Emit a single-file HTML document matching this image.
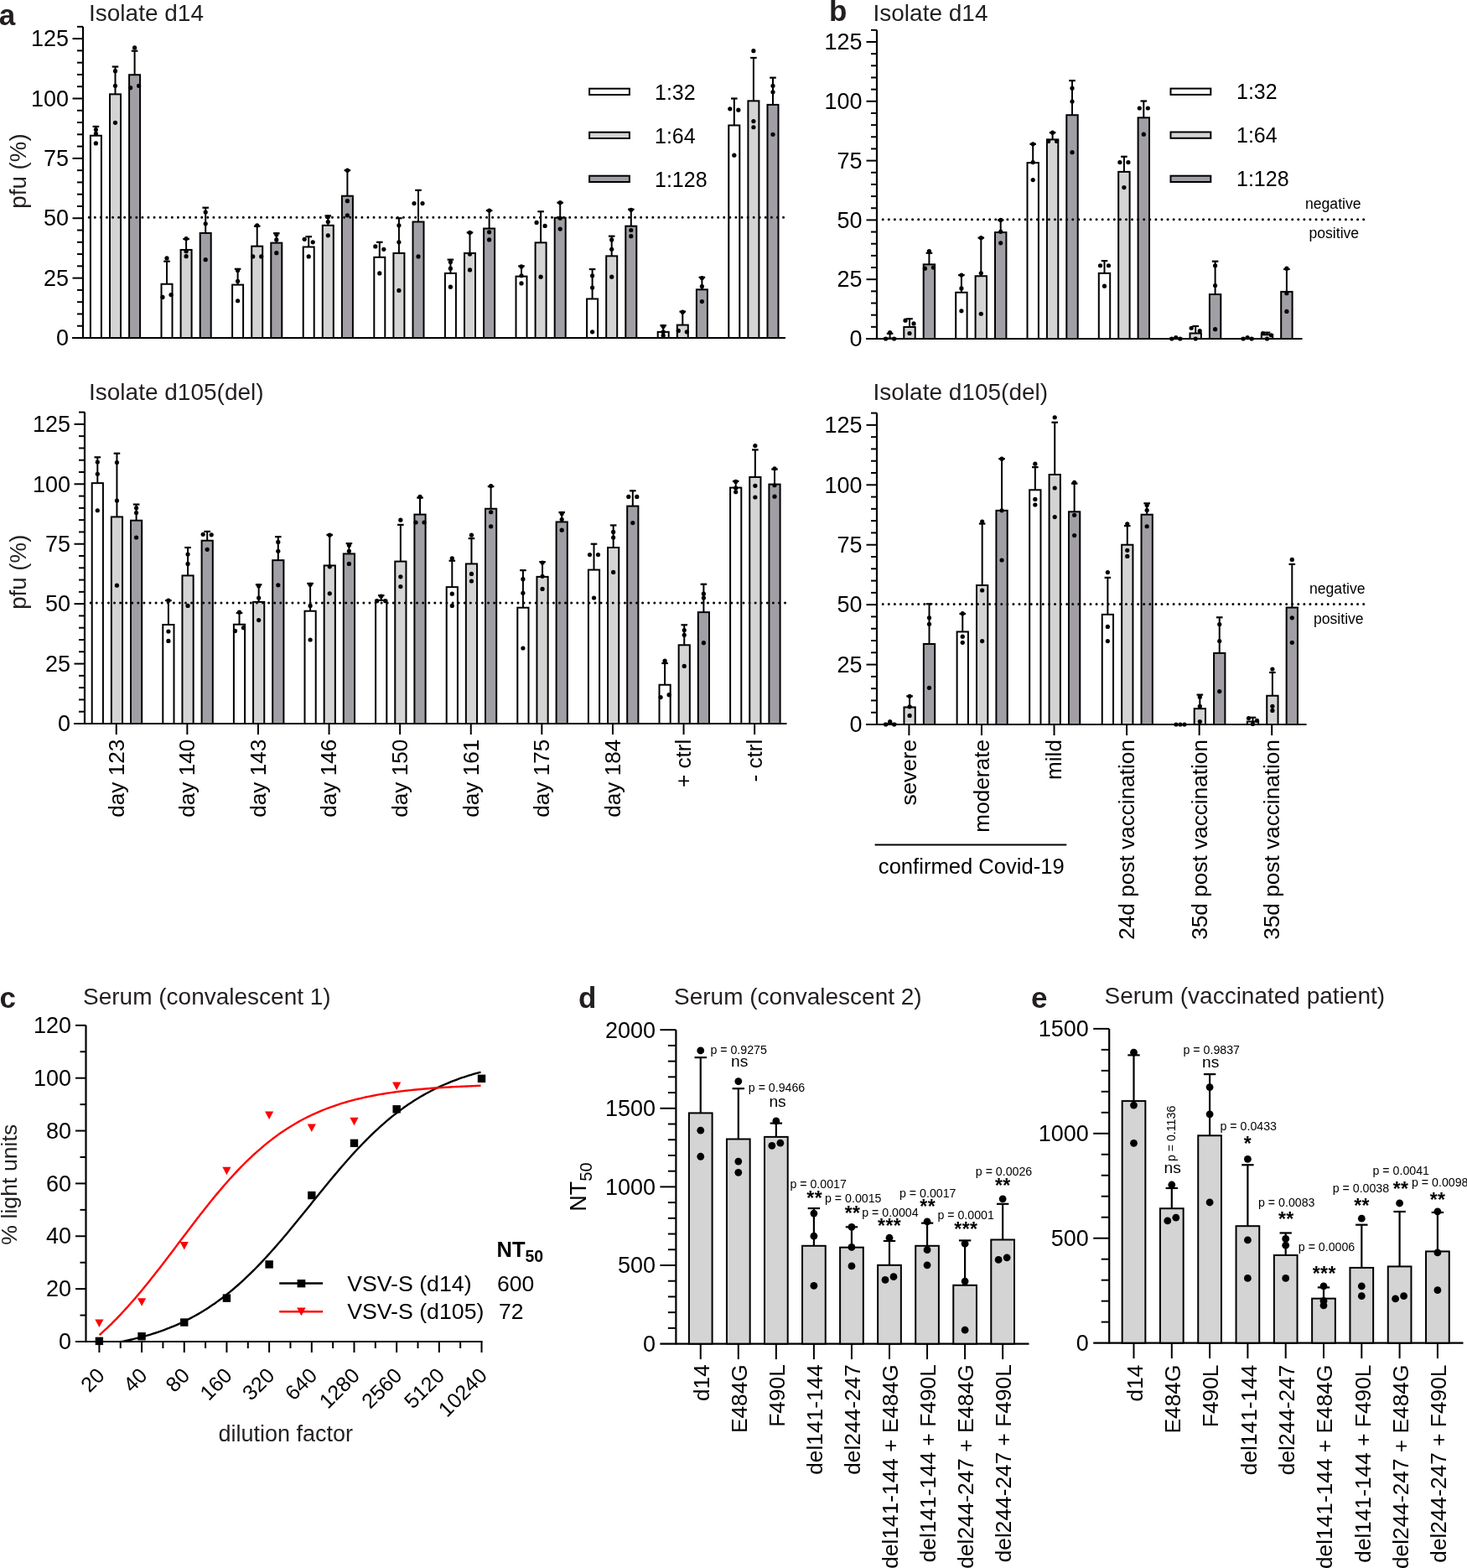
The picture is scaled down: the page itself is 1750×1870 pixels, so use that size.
<!DOCTYPE html>
<html><head><meta charset="utf-8"><title>Figure</title>
<style>html,body{margin:0;padding:0;background:#fff;overflow:hidden;}svg{display:block;}</style>
</head><body>
<svg width="1750" height="1870" viewBox="0 0 1750 1870" font-family="'Liberation Sans', Arial, Helvetica, sans-serif" fill="#000">
<rect width="1750" height="1870" fill="#fff"/>
<line x1="99" y1="31.85" x2="99" y2="404" stroke="#000" stroke-width="2.2"/>
<line x1="92" y1="388.73" x2="99" y2="388.73" stroke="#000" stroke-width="2"/>
<line x1="92" y1="374.45" x2="99" y2="374.45" stroke="#000" stroke-width="2"/>
<line x1="92" y1="360.18" x2="99" y2="360.18" stroke="#000" stroke-width="2"/>
<line x1="92" y1="345.9" x2="99" y2="345.9" stroke="#000" stroke-width="2"/>
<line x1="86.5" y1="331.62" x2="99" y2="331.62" stroke="#000" stroke-width="2"/>
<line x1="92" y1="317.35" x2="99" y2="317.35" stroke="#000" stroke-width="2"/>
<line x1="92" y1="303.07" x2="99" y2="303.07" stroke="#000" stroke-width="2"/>
<line x1="92" y1="288.8" x2="99" y2="288.8" stroke="#000" stroke-width="2"/>
<line x1="92" y1="274.52" x2="99" y2="274.52" stroke="#000" stroke-width="2"/>
<line x1="86.5" y1="260.25" x2="99" y2="260.25" stroke="#000" stroke-width="2"/>
<line x1="92" y1="245.97" x2="99" y2="245.97" stroke="#000" stroke-width="2"/>
<line x1="92" y1="231.7" x2="99" y2="231.7" stroke="#000" stroke-width="2"/>
<line x1="92" y1="217.43" x2="99" y2="217.43" stroke="#000" stroke-width="2"/>
<line x1="92" y1="203.15" x2="99" y2="203.15" stroke="#000" stroke-width="2"/>
<line x1="86.5" y1="188.88" x2="99" y2="188.88" stroke="#000" stroke-width="2"/>
<line x1="92" y1="174.6" x2="99" y2="174.6" stroke="#000" stroke-width="2"/>
<line x1="92" y1="160.32" x2="99" y2="160.32" stroke="#000" stroke-width="2"/>
<line x1="92" y1="146.05" x2="99" y2="146.05" stroke="#000" stroke-width="2"/>
<line x1="92" y1="131.77" x2="99" y2="131.77" stroke="#000" stroke-width="2"/>
<line x1="86.5" y1="117.5" x2="99" y2="117.5" stroke="#000" stroke-width="2"/>
<line x1="92" y1="103.23" x2="99" y2="103.23" stroke="#000" stroke-width="2"/>
<line x1="92" y1="88.95" x2="99" y2="88.95" stroke="#000" stroke-width="2"/>
<line x1="92" y1="74.68" x2="99" y2="74.68" stroke="#000" stroke-width="2"/>
<line x1="92" y1="60.4" x2="99" y2="60.4" stroke="#000" stroke-width="2"/>
<line x1="86.5" y1="46.12" x2="99" y2="46.12" stroke="#000" stroke-width="2"/>
<line x1="92" y1="31.85" x2="99" y2="31.85" stroke="#000" stroke-width="2"/>
<text font-size="27" text-anchor="end" transform="translate(82 412.2) scale(1 1.04)">0</text>
<text font-size="27" text-anchor="end" transform="translate(82 340.82) scale(1 1.04)">25</text>
<text font-size="27" text-anchor="end" transform="translate(82 269.45) scale(1 1.04)">50</text>
<text font-size="27" text-anchor="end" transform="translate(82 198.07) scale(1 1.04)">75</text>
<text font-size="27" text-anchor="end" transform="translate(82 126.7) scale(1 1.04)">100</text>
<text font-size="27" text-anchor="end" transform="translate(82 55.33) scale(1 1.04)">125</text>
<line x1="86" y1="403" x2="937" y2="403" stroke="#000" stroke-width="2.2"/>
<rect x="107.9" y="161.75" width="13" height="241.25" fill="#ffffff" stroke="#000" stroke-width="2.0"/>
<line x1="114.4" y1="161.75" x2="114.4" y2="150.9" stroke="#000" stroke-width="2"/>
<line x1="110.6" y1="150.9" x2="118.2" y2="150.9" stroke="#000" stroke-width="2.2"/>
<circle cx="114.4" cy="154.62" r="2.6"/>
<circle cx="114.4" cy="159.47" r="2.6"/>
<circle cx="114.4" cy="170.89" r="2.6"/>
<rect x="131" y="112.36" width="13" height="290.64" fill="#d4d4d4" stroke="#000" stroke-width="2.0"/>
<line x1="137.5" y1="112.36" x2="137.5" y2="79.53" stroke="#000" stroke-width="2"/>
<line x1="133.7" y1="79.53" x2="141.3" y2="79.53" stroke="#000" stroke-width="2.2"/>
<circle cx="137.5" cy="84.67" r="2.6"/>
<circle cx="137.5" cy="102.37" r="2.6"/>
<circle cx="137.5" cy="146.34" r="2.6"/>
<rect x="154.1" y="89.24" width="13" height="313.76" fill="#a19fa5" stroke="#000" stroke-width="2.0"/>
<line x1="160.6" y1="89.24" x2="160.6" y2="60.69" stroke="#000" stroke-width="2"/>
<line x1="156.8" y1="60.69" x2="164.4" y2="60.69" stroke="#000" stroke-width="2.2"/>
<circle cx="160.6" cy="56.97" r="2.6"/>
<circle cx="155.6" cy="104.65" r="2.6"/>
<circle cx="165.6" cy="102.37" r="2.6"/>
<rect x="192.5" y="338.76" width="13" height="64.24" fill="#ffffff" stroke="#000" stroke-width="2.0"/>
<line x1="199" y1="338.76" x2="199" y2="311.64" stroke="#000" stroke-width="2"/>
<line x1="195.2" y1="311.64" x2="202.8" y2="311.64" stroke="#000" stroke-width="2.2"/>
<circle cx="199" cy="307.93" r="2.6"/>
<circle cx="194" cy="354.47" r="2.6"/>
<circle cx="204" cy="351.61" r="2.6"/>
<rect x="215.6" y="297.94" width="13" height="105.06" fill="#d4d4d4" stroke="#000" stroke-width="2.0"/>
<line x1="222.1" y1="297.94" x2="222.1" y2="285.09" stroke="#000" stroke-width="2"/>
<line x1="218.3" y1="285.09" x2="225.9" y2="285.09" stroke="#000" stroke-width="2.2"/>
<circle cx="222.1" cy="284.52" r="2.6"/>
<circle cx="222.1" cy="299.65" r="2.6"/>
<circle cx="222.1" cy="305.64" r="2.6"/>
<rect x="238.7" y="277.95" width="13" height="125.05" fill="#a19fa5" stroke="#000" stroke-width="2.0"/>
<line x1="245.2" y1="277.95" x2="245.2" y2="247.69" stroke="#000" stroke-width="2"/>
<line x1="241.4" y1="247.69" x2="249" y2="247.69" stroke="#000" stroke-width="2.2"/>
<circle cx="245.2" cy="253.11" r="2.6"/>
<circle cx="245.2" cy="266.82" r="2.6"/>
<circle cx="245.2" cy="309.64" r="2.6"/>
<rect x="277.1" y="339.62" width="13" height="63.38" fill="#ffffff" stroke="#000" stroke-width="2.0"/>
<line x1="283.6" y1="339.62" x2="283.6" y2="320.78" stroke="#000" stroke-width="2"/>
<line x1="279.8" y1="320.78" x2="287.4" y2="320.78" stroke="#000" stroke-width="2.2"/>
<circle cx="283.6" cy="322.49" r="2.6"/>
<circle cx="283.6" cy="335.34" r="2.6"/>
<circle cx="283.6" cy="358.75" r="2.6"/>
<rect x="300.2" y="293.65" width="13" height="109.35" fill="#d4d4d4" stroke="#000" stroke-width="2.0"/>
<line x1="306.7" y1="293.65" x2="306.7" y2="269.67" stroke="#000" stroke-width="2"/>
<line x1="302.9" y1="269.67" x2="310.5" y2="269.67" stroke="#000" stroke-width="2.2"/>
<circle cx="306.7" cy="268.81" r="2.6"/>
<circle cx="301.7" cy="305.93" r="2.6"/>
<circle cx="311.7" cy="305.93" r="2.6"/>
<rect x="323.3" y="289.66" width="13" height="113.34" fill="#a19fa5" stroke="#000" stroke-width="2.0"/>
<line x1="329.8" y1="289.66" x2="329.8" y2="278.24" stroke="#000" stroke-width="2"/>
<line x1="326" y1="278.24" x2="333.6" y2="278.24" stroke="#000" stroke-width="2.2"/>
<circle cx="329.8" cy="279.66" r="2.6"/>
<circle cx="329.8" cy="285.94" r="2.6"/>
<circle cx="329.8" cy="301.65" r="2.6"/>
<rect x="361.7" y="294.51" width="13" height="108.49" fill="#ffffff" stroke="#000" stroke-width="2.0"/>
<line x1="368.2" y1="294.51" x2="368.2" y2="282.23" stroke="#000" stroke-width="2"/>
<line x1="364.4" y1="282.23" x2="372" y2="282.23" stroke="#000" stroke-width="2.2"/>
<circle cx="363.2" cy="285.37" r="2.6"/>
<circle cx="373.2" cy="288.8" r="2.6"/>
<circle cx="368.2" cy="305.93" r="2.6"/>
<rect x="384.8" y="268.81" width="13" height="134.19" fill="#d4d4d4" stroke="#000" stroke-width="2.0"/>
<line x1="391.3" y1="268.81" x2="391.3" y2="257.39" stroke="#000" stroke-width="2"/>
<line x1="387.5" y1="257.39" x2="395.1" y2="257.39" stroke="#000" stroke-width="2.2"/>
<circle cx="391.3" cy="258.82" r="2.6"/>
<circle cx="391.3" cy="264.53" r="2.6"/>
<circle cx="391.3" cy="280.81" r="2.6"/>
<rect x="407.9" y="233.7" width="13" height="169.3" fill="#a19fa5" stroke="#000" stroke-width="2.0"/>
<line x1="414.4" y1="233.7" x2="414.4" y2="203.15" stroke="#000" stroke-width="2"/>
<line x1="410.6" y1="203.15" x2="418.2" y2="203.15" stroke="#000" stroke-width="2.2"/>
<circle cx="414.4" cy="203.15" r="2.6"/>
<circle cx="414.4" cy="239.69" r="2.6"/>
<circle cx="414.4" cy="256.82" r="2.6"/>
<rect x="446.3" y="306.79" width="13" height="96.21" fill="#ffffff" stroke="#000" stroke-width="2.0"/>
<line x1="452.8" y1="306.79" x2="452.8" y2="288.8" stroke="#000" stroke-width="2"/>
<line x1="449" y1="288.8" x2="456.6" y2="288.8" stroke="#000" stroke-width="2.2"/>
<circle cx="447.8" cy="293.94" r="2.6"/>
<circle cx="457.8" cy="297.37" r="2.6"/>
<circle cx="452.8" cy="325.92" r="2.6"/>
<rect x="469.4" y="301.93" width="13" height="101.07" fill="#d4d4d4" stroke="#000" stroke-width="2.0"/>
<line x1="475.9" y1="301.93" x2="475.9" y2="260.25" stroke="#000" stroke-width="2"/>
<line x1="472.1" y1="260.25" x2="479.7" y2="260.25" stroke="#000" stroke-width="2.2"/>
<circle cx="475.9" cy="268.81" r="2.6"/>
<circle cx="475.9" cy="288.8" r="2.6"/>
<circle cx="475.9" cy="346.47" r="2.6"/>
<rect x="492.5" y="264.53" width="13" height="138.47" fill="#a19fa5" stroke="#000" stroke-width="2.0"/>
<line x1="499" y1="264.53" x2="499" y2="226.85" stroke="#000" stroke-width="2"/>
<line x1="495.2" y1="226.85" x2="502.8" y2="226.85" stroke="#000" stroke-width="2.2"/>
<circle cx="494" cy="242.55" r="2.6"/>
<circle cx="504" cy="242.55" r="2.6"/>
<circle cx="499" cy="305.93" r="2.6"/>
<rect x="530.9" y="325.92" width="13" height="77.08" fill="#ffffff" stroke="#000" stroke-width="2.0"/>
<line x1="537.4" y1="325.92" x2="537.4" y2="309.64" stroke="#000" stroke-width="2"/>
<line x1="533.6" y1="309.64" x2="541.2" y2="309.64" stroke="#000" stroke-width="2.2"/>
<circle cx="537.4" cy="312.5" r="2.6"/>
<circle cx="537.4" cy="320.2" r="2.6"/>
<circle cx="537.4" cy="342.19" r="2.6"/>
<rect x="554" y="301.93" width="13" height="101.07" fill="#d4d4d4" stroke="#000" stroke-width="2.0"/>
<line x1="560.5" y1="301.93" x2="560.5" y2="277.38" stroke="#000" stroke-width="2"/>
<line x1="556.7" y1="277.38" x2="564.3" y2="277.38" stroke="#000" stroke-width="2.2"/>
<circle cx="560.5" cy="277.38" r="2.6"/>
<circle cx="560.5" cy="303.07" r="2.6"/>
<circle cx="560.5" cy="321.92" r="2.6"/>
<rect x="577.1" y="272.53" width="13" height="130.47" fill="#a19fa5" stroke="#000" stroke-width="2.0"/>
<line x1="583.6" y1="272.53" x2="583.6" y2="251.11" stroke="#000" stroke-width="2"/>
<line x1="579.8" y1="251.11" x2="587.4" y2="251.11" stroke="#000" stroke-width="2.2"/>
<circle cx="583.6" cy="251.11" r="2.6"/>
<circle cx="583.6" cy="276.81" r="2.6"/>
<circle cx="583.6" cy="285.94" r="2.6"/>
<rect x="615.5" y="329.63" width="13" height="73.37" fill="#ffffff" stroke="#000" stroke-width="2.0"/>
<line x1="622" y1="329.63" x2="622" y2="317.35" stroke="#000" stroke-width="2"/>
<line x1="618.2" y1="317.35" x2="625.8" y2="317.35" stroke="#000" stroke-width="2.2"/>
<circle cx="622" cy="317.92" r="2.6"/>
<circle cx="622" cy="328.77" r="2.6"/>
<circle cx="622" cy="337.91" r="2.6"/>
<rect x="638.6" y="289.37" width="13" height="113.63" fill="#d4d4d4" stroke="#000" stroke-width="2.0"/>
<line x1="645.1" y1="289.37" x2="645.1" y2="252.26" stroke="#000" stroke-width="2"/>
<line x1="641.3" y1="252.26" x2="648.9" y2="252.26" stroke="#000" stroke-width="2.2"/>
<circle cx="640.1" cy="265.39" r="2.6"/>
<circle cx="650.1" cy="269.39" r="2.6"/>
<circle cx="645.1" cy="330.2" r="2.6"/>
<rect x="661.7" y="259.68" width="13" height="143.32" fill="#a19fa5" stroke="#000" stroke-width="2.0"/>
<line x1="668.2" y1="259.68" x2="668.2" y2="241.69" stroke="#000" stroke-width="2"/>
<line x1="664.4" y1="241.69" x2="672" y2="241.69" stroke="#000" stroke-width="2.2"/>
<circle cx="668.2" cy="241.69" r="2.6"/>
<circle cx="668.2" cy="260.25" r="2.6"/>
<circle cx="668.2" cy="273.1" r="2.6"/>
<rect x="700.1" y="356.46" width="13" height="46.54" fill="#ffffff" stroke="#000" stroke-width="2.0"/>
<line x1="706.6" y1="356.46" x2="706.6" y2="321.06" stroke="#000" stroke-width="2"/>
<line x1="702.8" y1="321.06" x2="710.4" y2="321.06" stroke="#000" stroke-width="2.2"/>
<circle cx="706.6" cy="328.77" r="2.6"/>
<circle cx="706.6" cy="343.05" r="2.6"/>
<circle cx="706.6" cy="395.86" r="2.6"/>
<rect x="723.2" y="305.36" width="13" height="97.64" fill="#d4d4d4" stroke="#000" stroke-width="2.0"/>
<line x1="729.7" y1="305.36" x2="729.7" y2="281.66" stroke="#000" stroke-width="2"/>
<line x1="725.9" y1="281.66" x2="733.5" y2="281.66" stroke="#000" stroke-width="2.2"/>
<circle cx="729.7" cy="285.94" r="2.6"/>
<circle cx="729.7" cy="297.37" r="2.6"/>
<circle cx="729.7" cy="330.2" r="2.6"/>
<rect x="746.3" y="269.67" width="13" height="133.33" fill="#a19fa5" stroke="#000" stroke-width="2.0"/>
<line x1="752.8" y1="269.67" x2="752.8" y2="249.69" stroke="#000" stroke-width="2"/>
<line x1="749" y1="249.69" x2="756.6" y2="249.69" stroke="#000" stroke-width="2.2"/>
<circle cx="752.8" cy="250.26" r="2.6"/>
<circle cx="752.8" cy="274.52" r="2.6"/>
<circle cx="752.8" cy="281.66" r="2.6"/>
<rect x="784.7" y="395.86" width="13" height="7.14" fill="#ffffff" stroke="#000" stroke-width="2.0"/>
<line x1="791.2" y1="395.86" x2="791.2" y2="388.15" stroke="#000" stroke-width="2"/>
<line x1="787.4" y1="388.15" x2="795" y2="388.15" stroke="#000" stroke-width="2.2"/>
<circle cx="791.2" cy="389.3" r="2.6"/>
<circle cx="791.2" cy="395.86" r="2.6"/>
<circle cx="791.2" cy="400.14" r="2.6"/>
<rect x="807.8" y="387.58" width="13" height="15.42" fill="#d4d4d4" stroke="#000" stroke-width="2.0"/>
<line x1="814.3" y1="387.58" x2="814.3" y2="371.6" stroke="#000" stroke-width="2"/>
<line x1="810.5" y1="371.6" x2="818.1" y2="371.6" stroke="#000" stroke-width="2.2"/>
<circle cx="814.3" cy="372.17" r="2.6"/>
<circle cx="809.3" cy="394.44" r="2.6"/>
<circle cx="819.3" cy="395.86" r="2.6"/>
<rect x="830.9" y="345.33" width="13" height="57.67" fill="#a19fa5" stroke="#000" stroke-width="2.0"/>
<line x1="837.4" y1="345.33" x2="837.4" y2="330.77" stroke="#000" stroke-width="2"/>
<line x1="833.6" y1="330.77" x2="841.2" y2="330.77" stroke="#000" stroke-width="2.2"/>
<circle cx="837.4" cy="331.62" r="2.6"/>
<circle cx="837.4" cy="341.62" r="2.6"/>
<circle cx="837.4" cy="359.6" r="2.6"/>
<rect x="869.3" y="149.48" width="13" height="253.52" fill="#ffffff" stroke="#000" stroke-width="2.0"/>
<line x1="875.8" y1="149.48" x2="875.8" y2="117.5" stroke="#000" stroke-width="2"/>
<line x1="872" y1="117.5" x2="879.6" y2="117.5" stroke="#000" stroke-width="2.2"/>
<circle cx="870.8" cy="129.78" r="2.6"/>
<circle cx="880.8" cy="131.2" r="2.6"/>
<circle cx="875.8" cy="185.16" r="2.6"/>
<rect x="892.4" y="120.36" width="13" height="282.64" fill="#d4d4d4" stroke="#000" stroke-width="2.0"/>
<line x1="898.9" y1="120.36" x2="898.9" y2="68.96" stroke="#000" stroke-width="2"/>
<line x1="895.1" y1="68.96" x2="902.7" y2="68.96" stroke="#000" stroke-width="2.2"/>
<circle cx="898.9" cy="60.69" r="2.6"/>
<circle cx="898.9" cy="144.62" r="2.6"/>
<circle cx="898.9" cy="151.76" r="2.6"/>
<rect x="915.5" y="124.92" width="13" height="278.08" fill="#a19fa5" stroke="#000" stroke-width="2.0"/>
<line x1="922" y1="124.92" x2="922" y2="92.66" stroke="#000" stroke-width="2"/>
<line x1="918.2" y1="92.66" x2="925.8" y2="92.66" stroke="#000" stroke-width="2.2"/>
<circle cx="922" cy="102.37" r="2.6"/>
<circle cx="922" cy="109.79" r="2.6"/>
<circle cx="922" cy="160.32" r="2.6"/>
<line x1="106.2" y1="259.2" x2="941" y2="259.2" stroke="#000" stroke-width="3" stroke-linecap="round" stroke-dasharray="0 7.08"/>
<line x1="101" y1="491.59" x2="101" y2="864" stroke="#000" stroke-width="2.2"/>
<line x1="94" y1="848.72" x2="101" y2="848.72" stroke="#000" stroke-width="2"/>
<line x1="94" y1="834.43" x2="101" y2="834.43" stroke="#000" stroke-width="2"/>
<line x1="94" y1="820.14" x2="101" y2="820.14" stroke="#000" stroke-width="2"/>
<line x1="94" y1="805.86" x2="101" y2="805.86" stroke="#000" stroke-width="2"/>
<line x1="88.5" y1="791.58" x2="101" y2="791.58" stroke="#000" stroke-width="2"/>
<line x1="94" y1="777.29" x2="101" y2="777.29" stroke="#000" stroke-width="2"/>
<line x1="94" y1="763" x2="101" y2="763" stroke="#000" stroke-width="2"/>
<line x1="94" y1="748.72" x2="101" y2="748.72" stroke="#000" stroke-width="2"/>
<line x1="94" y1="734.43" x2="101" y2="734.43" stroke="#000" stroke-width="2"/>
<line x1="88.5" y1="720.15" x2="101" y2="720.15" stroke="#000" stroke-width="2"/>
<line x1="94" y1="705.87" x2="101" y2="705.87" stroke="#000" stroke-width="2"/>
<line x1="94" y1="691.58" x2="101" y2="691.58" stroke="#000" stroke-width="2"/>
<line x1="94" y1="677.29" x2="101" y2="677.29" stroke="#000" stroke-width="2"/>
<line x1="94" y1="663.01" x2="101" y2="663.01" stroke="#000" stroke-width="2"/>
<line x1="88.5" y1="648.73" x2="101" y2="648.73" stroke="#000" stroke-width="2"/>
<line x1="94" y1="634.44" x2="101" y2="634.44" stroke="#000" stroke-width="2"/>
<line x1="94" y1="620.15" x2="101" y2="620.15" stroke="#000" stroke-width="2"/>
<line x1="94" y1="605.87" x2="101" y2="605.87" stroke="#000" stroke-width="2"/>
<line x1="94" y1="591.59" x2="101" y2="591.59" stroke="#000" stroke-width="2"/>
<line x1="88.5" y1="577.3" x2="101" y2="577.3" stroke="#000" stroke-width="2"/>
<line x1="94" y1="563.01" x2="101" y2="563.01" stroke="#000" stroke-width="2"/>
<line x1="94" y1="548.73" x2="101" y2="548.73" stroke="#000" stroke-width="2"/>
<line x1="94" y1="534.44" x2="101" y2="534.44" stroke="#000" stroke-width="2"/>
<line x1="94" y1="520.16" x2="101" y2="520.16" stroke="#000" stroke-width="2"/>
<line x1="88.5" y1="505.88" x2="101" y2="505.88" stroke="#000" stroke-width="2"/>
<line x1="94" y1="491.59" x2="101" y2="491.59" stroke="#000" stroke-width="2"/>
<text font-size="27" text-anchor="end" transform="translate(84 872.2) scale(1 1.04)">0</text>
<text font-size="27" text-anchor="end" transform="translate(84 800.78) scale(1 1.04)">25</text>
<text font-size="27" text-anchor="end" transform="translate(84 729.35) scale(1 1.04)">50</text>
<text font-size="27" text-anchor="end" transform="translate(84 657.93) scale(1 1.04)">75</text>
<text font-size="27" text-anchor="end" transform="translate(84 586.5) scale(1 1.04)">100</text>
<text font-size="27" text-anchor="end" transform="translate(84 515.08) scale(1 1.04)">125</text>
<line x1="88" y1="863" x2="938.5" y2="863" stroke="#000" stroke-width="2.2"/>
<rect x="109.7" y="576.16" width="13.2" height="286.84" fill="#ffffff" stroke="#000" stroke-width="2.0"/>
<line x1="116.3" y1="576.16" x2="116.3" y2="545.3" stroke="#000" stroke-width="2"/>
<line x1="112.5" y1="545.3" x2="120.1" y2="545.3" stroke="#000" stroke-width="2.2"/>
<circle cx="116.3" cy="551.02" r="2.6"/>
<circle cx="116.3" cy="565.3" r="2.6"/>
<circle cx="116.3" cy="608.73" r="2.6"/>
<rect x="132.85" y="616.44" width="13.2" height="246.56" fill="#d4d4d4" stroke="#000" stroke-width="2.0"/>
<line x1="139.45" y1="616.44" x2="139.45" y2="540.73" stroke="#000" stroke-width="2"/>
<line x1="135.65" y1="540.73" x2="143.25" y2="540.73" stroke="#000" stroke-width="2.2"/>
<circle cx="139.45" cy="551.59" r="2.6"/>
<circle cx="139.45" cy="597.01" r="2.6"/>
<circle cx="139.45" cy="698.15" r="2.6"/>
<rect x="156" y="620.73" width="13.2" height="242.27" fill="#a19fa5" stroke="#000" stroke-width="2.0"/>
<line x1="162.6" y1="620.73" x2="162.6" y2="601.58" stroke="#000" stroke-width="2"/>
<line x1="158.8" y1="601.58" x2="166.4" y2="601.58" stroke="#000" stroke-width="2.2"/>
<circle cx="162.6" cy="605.87" r="2.6"/>
<circle cx="162.6" cy="611.58" r="2.6"/>
<circle cx="162.6" cy="641.01" r="2.6"/>
<rect x="194.3" y="745.01" width="13.2" height="117.99" fill="#ffffff" stroke="#000" stroke-width="2.0"/>
<line x1="200.9" y1="745.01" x2="200.9" y2="716.15" stroke="#000" stroke-width="2"/>
<line x1="197.1" y1="716.15" x2="204.7" y2="716.15" stroke="#000" stroke-width="2.2"/>
<circle cx="200.9" cy="716.15" r="2.6"/>
<circle cx="200.9" cy="753.01" r="2.6"/>
<circle cx="200.9" cy="764.43" r="2.6"/>
<rect x="217.45" y="686.44" width="13.2" height="176.56" fill="#d4d4d4" stroke="#000" stroke-width="2.0"/>
<line x1="224.05" y1="686.44" x2="224.05" y2="653.01" stroke="#000" stroke-width="2"/>
<line x1="220.25" y1="653.01" x2="227.85" y2="653.01" stroke="#000" stroke-width="2.2"/>
<circle cx="224.05" cy="661.01" r="2.6"/>
<circle cx="224.05" cy="672.44" r="2.6"/>
<circle cx="224.05" cy="722.44" r="2.6"/>
<rect x="240.6" y="644.73" width="13.2" height="218.27" fill="#a19fa5" stroke="#000" stroke-width="2.0"/>
<line x1="247.2" y1="644.73" x2="247.2" y2="633.87" stroke="#000" stroke-width="2"/>
<line x1="243.4" y1="633.87" x2="251" y2="633.87" stroke="#000" stroke-width="2.2"/>
<circle cx="242.2" cy="637.3" r="2.6"/>
<circle cx="252.2" cy="637.87" r="2.6"/>
<circle cx="247.2" cy="655.3" r="2.6"/>
<rect x="278.9" y="744.72" width="13.2" height="118.28" fill="#ffffff" stroke="#000" stroke-width="2.0"/>
<line x1="285.5" y1="744.72" x2="285.5" y2="731.01" stroke="#000" stroke-width="2"/>
<line x1="281.7" y1="731.01" x2="289.3" y2="731.01" stroke="#000" stroke-width="2.2"/>
<circle cx="285.5" cy="730.15" r="2.6"/>
<circle cx="280.5" cy="752.43" r="2.6"/>
<circle cx="290.5" cy="748.72" r="2.6"/>
<rect x="302.05" y="717.86" width="13.2" height="145.14" fill="#d4d4d4" stroke="#000" stroke-width="2.0"/>
<line x1="308.65" y1="717.86" x2="308.65" y2="697.29" stroke="#000" stroke-width="2"/>
<line x1="304.85" y1="697.29" x2="312.45" y2="697.29" stroke="#000" stroke-width="2.2"/>
<circle cx="308.65" cy="698.72" r="2.6"/>
<circle cx="308.65" cy="713.01" r="2.6"/>
<circle cx="308.65" cy="739.58" r="2.6"/>
<rect x="325.2" y="668.15" width="13.2" height="194.85" fill="#a19fa5" stroke="#000" stroke-width="2.0"/>
<line x1="331.8" y1="668.15" x2="331.8" y2="640.15" stroke="#000" stroke-width="2"/>
<line x1="328" y1="640.15" x2="335.6" y2="640.15" stroke="#000" stroke-width="2.2"/>
<circle cx="331.8" cy="646.44" r="2.6"/>
<circle cx="331.8" cy="657.3" r="2.6"/>
<circle cx="331.8" cy="697.87" r="2.6"/>
<rect x="363.5" y="728.72" width="13.2" height="134.28" fill="#ffffff" stroke="#000" stroke-width="2.0"/>
<line x1="370.1" y1="728.72" x2="370.1" y2="695.87" stroke="#000" stroke-width="2"/>
<line x1="366.3" y1="695.87" x2="373.9" y2="695.87" stroke="#000" stroke-width="2.2"/>
<circle cx="370.1" cy="697.29" r="2.6"/>
<circle cx="370.1" cy="722.44" r="2.6"/>
<circle cx="370.1" cy="763" r="2.6"/>
<rect x="386.65" y="674.44" width="13.2" height="188.56" fill="#d4d4d4" stroke="#000" stroke-width="2.0"/>
<line x1="393.25" y1="674.44" x2="393.25" y2="637.87" stroke="#000" stroke-width="2"/>
<line x1="389.45" y1="637.87" x2="397.05" y2="637.87" stroke="#000" stroke-width="2.2"/>
<circle cx="393.25" cy="638.15" r="2.6"/>
<circle cx="393.25" cy="675.87" r="2.6"/>
<circle cx="393.25" cy="707.86" r="2.6"/>
<rect x="409.8" y="660.44" width="13.2" height="202.56" fill="#a19fa5" stroke="#000" stroke-width="2.0"/>
<line x1="416.4" y1="660.44" x2="416.4" y2="648.15" stroke="#000" stroke-width="2"/>
<line x1="412.6" y1="648.15" x2="420.2" y2="648.15" stroke="#000" stroke-width="2.2"/>
<circle cx="416.4" cy="650.15" r="2.6"/>
<circle cx="416.4" cy="657.3" r="2.6"/>
<circle cx="416.4" cy="672.44" r="2.6"/>
<rect x="448.1" y="715.86" width="13.2" height="147.14" fill="#ffffff" stroke="#000" stroke-width="2.0"/>
<line x1="454.7" y1="715.86" x2="454.7" y2="710.15" stroke="#000" stroke-width="2"/>
<line x1="450.9" y1="710.15" x2="458.5" y2="710.15" stroke="#000" stroke-width="2.2"/>
<circle cx="454.7" cy="711.01" r="2.6"/>
<circle cx="449.7" cy="716.72" r="2.6"/>
<circle cx="459.7" cy="716.72" r="2.6"/>
<rect x="471.25" y="669.58" width="13.2" height="193.42" fill="#d4d4d4" stroke="#000" stroke-width="2.0"/>
<line x1="477.85" y1="669.58" x2="477.85" y2="625.87" stroke="#000" stroke-width="2"/>
<line x1="474.05" y1="625.87" x2="481.65" y2="625.87" stroke="#000" stroke-width="2.2"/>
<circle cx="477.85" cy="620.15" r="2.6"/>
<circle cx="477.85" cy="687.87" r="2.6"/>
<circle cx="477.85" cy="699.58" r="2.6"/>
<rect x="494.4" y="613.58" width="13.2" height="249.42" fill="#a19fa5" stroke="#000" stroke-width="2.0"/>
<line x1="501" y1="613.58" x2="501" y2="593.58" stroke="#000" stroke-width="2"/>
<line x1="497.2" y1="593.58" x2="504.8" y2="593.58" stroke="#000" stroke-width="2.2"/>
<circle cx="501" cy="592.44" r="2.6"/>
<circle cx="496" cy="623.01" r="2.6"/>
<circle cx="506" cy="623.01" r="2.6"/>
<rect x="532.7" y="700.15" width="13.2" height="162.85" fill="#ffffff" stroke="#000" stroke-width="2.0"/>
<line x1="539.3" y1="700.15" x2="539.3" y2="668.72" stroke="#000" stroke-width="2"/>
<line x1="535.5" y1="668.72" x2="543.1" y2="668.72" stroke="#000" stroke-width="2.2"/>
<circle cx="539.3" cy="665.87" r="2.6"/>
<circle cx="539.3" cy="708.15" r="2.6"/>
<circle cx="539.3" cy="722.44" r="2.6"/>
<rect x="555.85" y="672.44" width="13.2" height="190.56" fill="#d4d4d4" stroke="#000" stroke-width="2.0"/>
<line x1="562.45" y1="672.44" x2="562.45" y2="642.15" stroke="#000" stroke-width="2"/>
<line x1="558.65" y1="642.15" x2="566.25" y2="642.15" stroke="#000" stroke-width="2.2"/>
<circle cx="562.45" cy="638.15" r="2.6"/>
<circle cx="562.45" cy="684.44" r="2.6"/>
<circle cx="562.45" cy="693.01" r="2.6"/>
<rect x="579" y="606.73" width="13.2" height="256.27" fill="#a19fa5" stroke="#000" stroke-width="2.0"/>
<line x1="585.6" y1="606.73" x2="585.6" y2="580.16" stroke="#000" stroke-width="2"/>
<line x1="581.8" y1="580.16" x2="589.4" y2="580.16" stroke="#000" stroke-width="2.2"/>
<circle cx="585.6" cy="579.59" r="2.6"/>
<circle cx="585.6" cy="610.73" r="2.6"/>
<circle cx="585.6" cy="627.87" r="2.6"/>
<rect x="617.3" y="724.72" width="13.2" height="138.28" fill="#ffffff" stroke="#000" stroke-width="2.0"/>
<line x1="623.9" y1="724.72" x2="623.9" y2="680.15" stroke="#000" stroke-width="2"/>
<line x1="620.1" y1="680.15" x2="627.7" y2="680.15" stroke="#000" stroke-width="2.2"/>
<circle cx="623.9" cy="690.72" r="2.6"/>
<circle cx="623.9" cy="707.29" r="2.6"/>
<circle cx="623.9" cy="773" r="2.6"/>
<rect x="640.45" y="687.87" width="13.2" height="175.13" fill="#d4d4d4" stroke="#000" stroke-width="2.0"/>
<line x1="647.05" y1="687.87" x2="647.05" y2="670.15" stroke="#000" stroke-width="2"/>
<line x1="643.25" y1="670.15" x2="650.85" y2="670.15" stroke="#000" stroke-width="2.2"/>
<circle cx="647.05" cy="671.01" r="2.6"/>
<circle cx="647.05" cy="687.29" r="2.6"/>
<circle cx="647.05" cy="702.44" r="2.6"/>
<rect x="663.6" y="622.44" width="13.2" height="240.56" fill="#a19fa5" stroke="#000" stroke-width="2.0"/>
<line x1="670.2" y1="622.44" x2="670.2" y2="611.01" stroke="#000" stroke-width="2"/>
<line x1="666.4" y1="611.01" x2="674" y2="611.01" stroke="#000" stroke-width="2.2"/>
<circle cx="670.2" cy="612.44" r="2.6"/>
<circle cx="670.2" cy="619.58" r="2.6"/>
<circle cx="670.2" cy="632.15" r="2.6"/>
<rect x="701.9" y="679.58" width="13.2" height="183.42" fill="#ffffff" stroke="#000" stroke-width="2.0"/>
<line x1="708.5" y1="679.58" x2="708.5" y2="648.73" stroke="#000" stroke-width="2"/>
<line x1="704.7" y1="648.73" x2="712.3" y2="648.73" stroke="#000" stroke-width="2.2"/>
<circle cx="703.5" cy="661.58" r="2.6"/>
<circle cx="713.5" cy="661.58" r="2.6"/>
<circle cx="708.5" cy="713.01" r="2.6"/>
<rect x="725.05" y="653.01" width="13.2" height="209.99" fill="#d4d4d4" stroke="#000" stroke-width="2.0"/>
<line x1="731.65" y1="653.01" x2="731.65" y2="626.44" stroke="#000" stroke-width="2"/>
<line x1="727.85" y1="626.44" x2="735.45" y2="626.44" stroke="#000" stroke-width="2.2"/>
<circle cx="731.65" cy="634.44" r="2.6"/>
<circle cx="731.65" cy="641.01" r="2.6"/>
<circle cx="731.65" cy="682.44" r="2.6"/>
<rect x="748.2" y="603.58" width="13.2" height="259.42" fill="#a19fa5" stroke="#000" stroke-width="2.0"/>
<line x1="754.8" y1="603.58" x2="754.8" y2="585.3" stroke="#000" stroke-width="2"/>
<line x1="751" y1="585.3" x2="758.6" y2="585.3" stroke="#000" stroke-width="2.2"/>
<circle cx="749.8" cy="592.44" r="2.6"/>
<circle cx="759.8" cy="592.44" r="2.6"/>
<circle cx="754.8" cy="623.58" r="2.6"/>
<rect x="786.5" y="816.72" width="13.2" height="46.28" fill="#ffffff" stroke="#000" stroke-width="2.0"/>
<line x1="793.1" y1="816.72" x2="793.1" y2="791" stroke="#000" stroke-width="2"/>
<line x1="789.3" y1="791" x2="796.9" y2="791" stroke="#000" stroke-width="2.2"/>
<circle cx="793.1" cy="788.15" r="2.6"/>
<circle cx="798.1" cy="828.72" r="2.6"/>
<circle cx="788.1" cy="831.57" r="2.6"/>
<rect x="809.65" y="769.29" width="13.2" height="93.71" fill="#d4d4d4" stroke="#000" stroke-width="2.0"/>
<line x1="816.25" y1="769.29" x2="816.25" y2="745.29" stroke="#000" stroke-width="2"/>
<line x1="812.45" y1="745.29" x2="820.05" y2="745.29" stroke="#000" stroke-width="2.2"/>
<circle cx="816.25" cy="751.58" r="2.6"/>
<circle cx="816.25" cy="757.29" r="2.6"/>
<circle cx="816.25" cy="794.43" r="2.6"/>
<rect x="832.8" y="730.15" width="13.2" height="132.85" fill="#a19fa5" stroke="#000" stroke-width="2.0"/>
<line x1="839.4" y1="730.15" x2="839.4" y2="696.72" stroke="#000" stroke-width="2"/>
<line x1="835.6" y1="696.72" x2="843.2" y2="696.72" stroke="#000" stroke-width="2.2"/>
<circle cx="839.4" cy="708.15" r="2.6"/>
<circle cx="839.4" cy="713.01" r="2.6"/>
<circle cx="839.4" cy="766.72" r="2.6"/>
<rect x="871.1" y="581.59" width="13.2" height="281.41" fill="#ffffff" stroke="#000" stroke-width="2.0"/>
<line x1="877.7" y1="581.59" x2="877.7" y2="573.87" stroke="#000" stroke-width="2"/>
<line x1="873.9" y1="573.87" x2="881.5" y2="573.87" stroke="#000" stroke-width="2.2"/>
<circle cx="877.7" cy="574.44" r="2.6"/>
<circle cx="877.7" cy="582.16" r="2.6"/>
<circle cx="877.7" cy="586.73" r="2.6"/>
<rect x="894.25" y="569.01" width="13.2" height="293.99" fill="#d4d4d4" stroke="#000" stroke-width="2.0"/>
<line x1="900.85" y1="569.01" x2="900.85" y2="536.44" stroke="#000" stroke-width="2"/>
<line x1="897.05" y1="536.44" x2="904.65" y2="536.44" stroke="#000" stroke-width="2.2"/>
<circle cx="900.85" cy="531.59" r="2.6"/>
<circle cx="900.85" cy="579.3" r="2.6"/>
<circle cx="900.85" cy="593.01" r="2.6"/>
<rect x="917.4" y="577.59" width="13.2" height="285.41" fill="#a19fa5" stroke="#000" stroke-width="2.0"/>
<line x1="924" y1="577.59" x2="924" y2="559.59" stroke="#000" stroke-width="2"/>
<line x1="920.2" y1="559.59" x2="927.8" y2="559.59" stroke="#000" stroke-width="2.2"/>
<circle cx="924" cy="558.73" r="2.6"/>
<circle cx="924" cy="578.73" r="2.6"/>
<circle cx="924" cy="592.16" r="2.6"/>
<line x1="108.2" y1="719" x2="942.5" y2="719" stroke="#000" stroke-width="3" stroke-linecap="round" stroke-dasharray="0 7.08"/>
<line x1="138.75" y1="863" x2="138.75" y2="876" stroke="#000" stroke-width="2"/>
<text font-size="26.2" text-anchor="end" transform="translate(147.65 881.6) rotate(-90)">day 123</text>
<line x1="223.35" y1="863" x2="223.35" y2="876" stroke="#000" stroke-width="2"/>
<text font-size="26.2" text-anchor="end" transform="translate(232.25 881.6) rotate(-90)">day 140</text>
<line x1="307.95" y1="863" x2="307.95" y2="876" stroke="#000" stroke-width="2"/>
<text font-size="26.2" text-anchor="end" transform="translate(316.85 881.6) rotate(-90)">day 143</text>
<line x1="392.55" y1="863" x2="392.55" y2="876" stroke="#000" stroke-width="2"/>
<text font-size="26.2" text-anchor="end" transform="translate(401.45 881.6) rotate(-90)">day 146</text>
<line x1="477.15" y1="863" x2="477.15" y2="876" stroke="#000" stroke-width="2"/>
<text font-size="26.2" text-anchor="end" transform="translate(486.05 881.6) rotate(-90)">day 150</text>
<line x1="561.75" y1="863" x2="561.75" y2="876" stroke="#000" stroke-width="2"/>
<text font-size="26.2" text-anchor="end" transform="translate(570.65 881.6) rotate(-90)">day 161</text>
<line x1="646.35" y1="863" x2="646.35" y2="876" stroke="#000" stroke-width="2"/>
<text font-size="26.2" text-anchor="end" transform="translate(655.25 881.6) rotate(-90)">day 175</text>
<line x1="730.95" y1="863" x2="730.95" y2="876" stroke="#000" stroke-width="2"/>
<text font-size="26.2" text-anchor="end" transform="translate(739.85 881.6) rotate(-90)">day 184</text>
<line x1="815.55" y1="863" x2="815.55" y2="876" stroke="#000" stroke-width="2"/>
<text font-size="26.2" text-anchor="end" transform="translate(824.45 881.6) rotate(-90)">+ ctrl</text>
<line x1="900.15" y1="863" x2="900.15" y2="876" stroke="#000" stroke-width="2"/>
<text font-size="26.2" text-anchor="end" transform="translate(909.05 881.6) rotate(-90)">- ctrl</text>
<line x1="1046" y1="35.84" x2="1046" y2="405" stroke="#000" stroke-width="2.2"/>
<line x1="1039" y1="389.84" x2="1046" y2="389.84" stroke="#000" stroke-width="2"/>
<line x1="1039" y1="375.68" x2="1046" y2="375.68" stroke="#000" stroke-width="2"/>
<line x1="1039" y1="361.52" x2="1046" y2="361.52" stroke="#000" stroke-width="2"/>
<line x1="1039" y1="347.36" x2="1046" y2="347.36" stroke="#000" stroke-width="2"/>
<line x1="1033.5" y1="333.2" x2="1046" y2="333.2" stroke="#000" stroke-width="2"/>
<line x1="1039" y1="319.04" x2="1046" y2="319.04" stroke="#000" stroke-width="2"/>
<line x1="1039" y1="304.88" x2="1046" y2="304.88" stroke="#000" stroke-width="2"/>
<line x1="1039" y1="290.72" x2="1046" y2="290.72" stroke="#000" stroke-width="2"/>
<line x1="1039" y1="276.56" x2="1046" y2="276.56" stroke="#000" stroke-width="2"/>
<line x1="1033.5" y1="262.4" x2="1046" y2="262.4" stroke="#000" stroke-width="2"/>
<line x1="1039" y1="248.24" x2="1046" y2="248.24" stroke="#000" stroke-width="2"/>
<line x1="1039" y1="234.08" x2="1046" y2="234.08" stroke="#000" stroke-width="2"/>
<line x1="1039" y1="219.92" x2="1046" y2="219.92" stroke="#000" stroke-width="2"/>
<line x1="1039" y1="205.76" x2="1046" y2="205.76" stroke="#000" stroke-width="2"/>
<line x1="1033.5" y1="191.6" x2="1046" y2="191.6" stroke="#000" stroke-width="2"/>
<line x1="1039" y1="177.44" x2="1046" y2="177.44" stroke="#000" stroke-width="2"/>
<line x1="1039" y1="163.28" x2="1046" y2="163.28" stroke="#000" stroke-width="2"/>
<line x1="1039" y1="149.12" x2="1046" y2="149.12" stroke="#000" stroke-width="2"/>
<line x1="1039" y1="134.96" x2="1046" y2="134.96" stroke="#000" stroke-width="2"/>
<line x1="1033.5" y1="120.8" x2="1046" y2="120.8" stroke="#000" stroke-width="2"/>
<line x1="1039" y1="106.64" x2="1046" y2="106.64" stroke="#000" stroke-width="2"/>
<line x1="1039" y1="92.48" x2="1046" y2="92.48" stroke="#000" stroke-width="2"/>
<line x1="1039" y1="78.32" x2="1046" y2="78.32" stroke="#000" stroke-width="2"/>
<line x1="1039" y1="64.16" x2="1046" y2="64.16" stroke="#000" stroke-width="2"/>
<line x1="1033.5" y1="50" x2="1046" y2="50" stroke="#000" stroke-width="2"/>
<line x1="1039" y1="35.84" x2="1046" y2="35.84" stroke="#000" stroke-width="2"/>
<text font-size="27" text-anchor="end" transform="translate(1028.6 413.2) scale(1 1.04)">0</text>
<text font-size="27" text-anchor="end" transform="translate(1028.6 342.4) scale(1 1.04)">25</text>
<text font-size="27" text-anchor="end" transform="translate(1028.6 271.6) scale(1 1.04)">50</text>
<text font-size="27" text-anchor="end" transform="translate(1028.6 200.8) scale(1 1.04)">75</text>
<text font-size="27" text-anchor="end" transform="translate(1028.6 130) scale(1 1.04)">100</text>
<text font-size="27" text-anchor="end" transform="translate(1028.6 59.2) scale(1 1.04)">125</text>
<line x1="1033" y1="404" x2="1553.5" y2="404" stroke="#000" stroke-width="2.2"/>
<rect x="1054.9" y="403.43" width="13.4" height="0.57" fill="#ffffff" stroke="#000" stroke-width="2.0"/>
<line x1="1061.6" y1="403.43" x2="1061.6" y2="397.77" stroke="#000" stroke-width="2"/>
<line x1="1057.8" y1="397.77" x2="1065.4" y2="397.77" stroke="#000" stroke-width="2.2"/>
<circle cx="1056.6" cy="404" r="2.6"/>
<circle cx="1066.6" cy="404" r="2.6"/>
<circle cx="1061.6" cy="396.64" r="2.6"/>
<rect x="1078.3" y="389.98" width="13.4" height="14.02" fill="#d4d4d4" stroke="#000" stroke-width="2.0"/>
<line x1="1085" y1="389.98" x2="1085" y2="380.21" stroke="#000" stroke-width="2"/>
<line x1="1081.2" y1="380.21" x2="1088.8" y2="380.21" stroke="#000" stroke-width="2.2"/>
<circle cx="1080" cy="382.19" r="2.6"/>
<circle cx="1090" cy="385.88" r="2.6"/>
<circle cx="1085" cy="397.49" r="2.6"/>
<rect x="1101.7" y="315.36" width="13.4" height="88.64" fill="#a19fa5" stroke="#000" stroke-width="2.0"/>
<line x1="1108.4" y1="315.36" x2="1108.4" y2="301.76" stroke="#000" stroke-width="2"/>
<line x1="1104.6" y1="301.76" x2="1112.2" y2="301.76" stroke="#000" stroke-width="2.2"/>
<circle cx="1108.4" cy="299.5" r="2.6"/>
<circle cx="1103.4" cy="320.17" r="2.6"/>
<circle cx="1113.4" cy="319.04" r="2.6"/>
<rect x="1140.2" y="348.78" width="13.4" height="55.22" fill="#ffffff" stroke="#000" stroke-width="2.0"/>
<line x1="1146.9" y1="348.78" x2="1146.9" y2="328.1" stroke="#000" stroke-width="2"/>
<line x1="1143.1" y1="328.1" x2="1150.7" y2="328.1" stroke="#000" stroke-width="2.2"/>
<circle cx="1146.9" cy="328.1" r="2.6"/>
<circle cx="1146.9" cy="343.96" r="2.6"/>
<circle cx="1146.9" cy="370.87" r="2.6"/>
<rect x="1163.6" y="329.24" width="13.4" height="74.76" fill="#d4d4d4" stroke="#000" stroke-width="2.0"/>
<line x1="1170.3" y1="329.24" x2="1170.3" y2="283.64" stroke="#000" stroke-width="2"/>
<line x1="1166.5" y1="283.64" x2="1174.1" y2="283.64" stroke="#000" stroke-width="2.2"/>
<circle cx="1170.3" cy="283.64" r="2.6"/>
<circle cx="1170.3" cy="325.84" r="2.6"/>
<circle cx="1170.3" cy="374.26" r="2.6"/>
<rect x="1187" y="277.13" width="13.4" height="126.87" fill="#a19fa5" stroke="#000" stroke-width="2.0"/>
<line x1="1193.7" y1="277.13" x2="1193.7" y2="262.4" stroke="#000" stroke-width="2"/>
<line x1="1189.9" y1="262.4" x2="1197.5" y2="262.4" stroke="#000" stroke-width="2.2"/>
<circle cx="1193.7" cy="262.4" r="2.6"/>
<circle cx="1193.7" cy="276.28" r="2.6"/>
<circle cx="1193.7" cy="289.87" r="2.6"/>
<rect x="1225.5" y="194.15" width="13.4" height="209.85" fill="#ffffff" stroke="#000" stroke-width="2.0"/>
<line x1="1232.2" y1="194.15" x2="1232.2" y2="171.78" stroke="#000" stroke-width="2"/>
<line x1="1228.4" y1="171.78" x2="1236" y2="171.78" stroke="#000" stroke-width="2.2"/>
<circle cx="1232.2" cy="171.78" r="2.6"/>
<circle cx="1232.2" cy="193.58" r="2.6"/>
<circle cx="1232.2" cy="214.54" r="2.6"/>
<rect x="1248.9" y="166.4" width="13.4" height="237.6" fill="#d4d4d4" stroke="#000" stroke-width="2.0"/>
<line x1="1255.6" y1="166.4" x2="1255.6" y2="158.18" stroke="#000" stroke-width="2"/>
<line x1="1251.8" y1="158.18" x2="1259.4" y2="158.18" stroke="#000" stroke-width="2.2"/>
<circle cx="1255.6" cy="158.18" r="2.6"/>
<circle cx="1250.6" cy="168.38" r="2.6"/>
<circle cx="1260.6" cy="168.38" r="2.6"/>
<rect x="1272.3" y="137.23" width="13.4" height="266.77" fill="#a19fa5" stroke="#000" stroke-width="2.0"/>
<line x1="1279" y1="137.23" x2="1279" y2="96.16" stroke="#000" stroke-width="2"/>
<line x1="1275.2" y1="96.16" x2="1282.8" y2="96.16" stroke="#000" stroke-width="2.2"/>
<circle cx="1279" cy="105.22" r="2.6"/>
<circle cx="1279" cy="121.08" r="2.6"/>
<circle cx="1279" cy="181.69" r="2.6"/>
<rect x="1310.8" y="325.84" width="13.4" height="78.16" fill="#ffffff" stroke="#000" stroke-width="2.0"/>
<line x1="1317.5" y1="325.84" x2="1317.5" y2="311.11" stroke="#000" stroke-width="2"/>
<line x1="1313.7" y1="311.11" x2="1321.3" y2="311.11" stroke="#000" stroke-width="2.2"/>
<circle cx="1312.5" cy="316.77" r="2.6"/>
<circle cx="1322.5" cy="316.77" r="2.6"/>
<circle cx="1317.5" cy="341.13" r="2.6"/>
<rect x="1334.2" y="204.91" width="13.4" height="199.09" fill="#d4d4d4" stroke="#000" stroke-width="2.0"/>
<line x1="1340.9" y1="204.91" x2="1340.9" y2="186.79" stroke="#000" stroke-width="2"/>
<line x1="1337.1" y1="186.79" x2="1344.7" y2="186.79" stroke="#000" stroke-width="2.2"/>
<circle cx="1335.9" cy="193.58" r="2.6"/>
<circle cx="1345.9" cy="193.58" r="2.6"/>
<circle cx="1340.9" cy="223.6" r="2.6"/>
<rect x="1357.6" y="140.34" width="13.4" height="263.66" fill="#a19fa5" stroke="#000" stroke-width="2.0"/>
<line x1="1364.3" y1="140.34" x2="1364.3" y2="120.52" stroke="#000" stroke-width="2"/>
<line x1="1360.5" y1="120.52" x2="1368.1" y2="120.52" stroke="#000" stroke-width="2.2"/>
<circle cx="1359.3" cy="129.01" r="2.6"/>
<circle cx="1369.3" cy="129.01" r="2.6"/>
<circle cx="1364.3" cy="160.16" r="2.6"/>
<rect x="1396.1" y="403.52" width="13.4" height="0.48" fill="#ffffff" stroke="#000" stroke-width="2.0"/>
<circle cx="1397.8" cy="404" r="2.6"/>
<circle cx="1402.8" cy="402.58" r="2.6"/>
<circle cx="1407.8" cy="404" r="2.6"/>
<rect x="1419.5" y="397.49" width="13.4" height="6.51" fill="#d4d4d4" stroke="#000" stroke-width="2.0"/>
<line x1="1426.2" y1="397.49" x2="1426.2" y2="388.99" stroke="#000" stroke-width="2"/>
<line x1="1422.4" y1="388.99" x2="1430" y2="388.99" stroke="#000" stroke-width="2.2"/>
<circle cx="1421.2" cy="391.26" r="2.6"/>
<circle cx="1431.2" cy="394.65" r="2.6"/>
<circle cx="1426.2" cy="404" r="2.6"/>
<rect x="1442.9" y="351.04" width="13.4" height="52.96" fill="#a19fa5" stroke="#000" stroke-width="2.0"/>
<line x1="1449.6" y1="351.04" x2="1449.6" y2="311.68" stroke="#000" stroke-width="2"/>
<line x1="1445.8" y1="311.68" x2="1453.4" y2="311.68" stroke="#000" stroke-width="2.2"/>
<circle cx="1449.6" cy="316.77" r="2.6"/>
<circle cx="1449.6" cy="340.56" r="2.6"/>
<circle cx="1449.6" cy="392.67" r="2.6"/>
<rect x="1481.4" y="403.52" width="13.4" height="0.48" fill="#ffffff" stroke="#000" stroke-width="2.0"/>
<circle cx="1483.1" cy="404" r="2.6"/>
<circle cx="1488.1" cy="402.58" r="2.6"/>
<circle cx="1493.1" cy="404" r="2.6"/>
<rect x="1504.8" y="399.19" width="13.4" height="4.81" fill="#d4d4d4" stroke="#000" stroke-width="2.0"/>
<line x1="1511.5" y1="399.19" x2="1511.5" y2="396.64" stroke="#000" stroke-width="2"/>
<line x1="1507.7" y1="396.64" x2="1515.3" y2="396.64" stroke="#000" stroke-width="2.2"/>
<circle cx="1506.5" cy="397.49" r="2.6"/>
<circle cx="1516.5" cy="399.75" r="2.6"/>
<circle cx="1511.5" cy="404" r="2.6"/>
<rect x="1528.2" y="347.93" width="13.4" height="56.07" fill="#a19fa5" stroke="#000" stroke-width="2.0"/>
<line x1="1534.9" y1="347.93" x2="1534.9" y2="321.02" stroke="#000" stroke-width="2"/>
<line x1="1531.1" y1="321.02" x2="1538.7" y2="321.02" stroke="#000" stroke-width="2.2"/>
<circle cx="1534.9" cy="320.17" r="2.6"/>
<circle cx="1534.9" cy="349.63" r="2.6"/>
<circle cx="1534.9" cy="371.43" r="2.6"/>
<line x1="1053.2" y1="261.7" x2="1630" y2="261.7" stroke="#000" stroke-width="3" stroke-linecap="round" stroke-dasharray="0 7.08"/>
<line x1="1046" y1="492.59" x2="1046" y2="865" stroke="#000" stroke-width="2.2"/>
<line x1="1039" y1="849.72" x2="1046" y2="849.72" stroke="#000" stroke-width="2"/>
<line x1="1039" y1="835.43" x2="1046" y2="835.43" stroke="#000" stroke-width="2"/>
<line x1="1039" y1="821.14" x2="1046" y2="821.14" stroke="#000" stroke-width="2"/>
<line x1="1039" y1="806.86" x2="1046" y2="806.86" stroke="#000" stroke-width="2"/>
<line x1="1033.5" y1="792.58" x2="1046" y2="792.58" stroke="#000" stroke-width="2"/>
<line x1="1039" y1="778.29" x2="1046" y2="778.29" stroke="#000" stroke-width="2"/>
<line x1="1039" y1="764" x2="1046" y2="764" stroke="#000" stroke-width="2"/>
<line x1="1039" y1="749.72" x2="1046" y2="749.72" stroke="#000" stroke-width="2"/>
<line x1="1039" y1="735.43" x2="1046" y2="735.43" stroke="#000" stroke-width="2"/>
<line x1="1033.5" y1="721.15" x2="1046" y2="721.15" stroke="#000" stroke-width="2"/>
<line x1="1039" y1="706.87" x2="1046" y2="706.87" stroke="#000" stroke-width="2"/>
<line x1="1039" y1="692.58" x2="1046" y2="692.58" stroke="#000" stroke-width="2"/>
<line x1="1039" y1="678.29" x2="1046" y2="678.29" stroke="#000" stroke-width="2"/>
<line x1="1039" y1="664.01" x2="1046" y2="664.01" stroke="#000" stroke-width="2"/>
<line x1="1033.5" y1="649.73" x2="1046" y2="649.73" stroke="#000" stroke-width="2"/>
<line x1="1039" y1="635.44" x2="1046" y2="635.44" stroke="#000" stroke-width="2"/>
<line x1="1039" y1="621.15" x2="1046" y2="621.15" stroke="#000" stroke-width="2"/>
<line x1="1039" y1="606.87" x2="1046" y2="606.87" stroke="#000" stroke-width="2"/>
<line x1="1039" y1="592.59" x2="1046" y2="592.59" stroke="#000" stroke-width="2"/>
<line x1="1033.5" y1="578.3" x2="1046" y2="578.3" stroke="#000" stroke-width="2"/>
<line x1="1039" y1="564.01" x2="1046" y2="564.01" stroke="#000" stroke-width="2"/>
<line x1="1039" y1="549.73" x2="1046" y2="549.73" stroke="#000" stroke-width="2"/>
<line x1="1039" y1="535.44" x2="1046" y2="535.44" stroke="#000" stroke-width="2"/>
<line x1="1039" y1="521.16" x2="1046" y2="521.16" stroke="#000" stroke-width="2"/>
<line x1="1033.5" y1="506.88" x2="1046" y2="506.88" stroke="#000" stroke-width="2"/>
<line x1="1039" y1="492.59" x2="1046" y2="492.59" stroke="#000" stroke-width="2"/>
<text font-size="27" text-anchor="end" transform="translate(1028.6 873.2) scale(1 1.04)">0</text>
<text font-size="27" text-anchor="end" transform="translate(1028.6 801.78) scale(1 1.04)">25</text>
<text font-size="27" text-anchor="end" transform="translate(1028.6 730.35) scale(1 1.04)">50</text>
<text font-size="27" text-anchor="end" transform="translate(1028.6 658.93) scale(1 1.04)">75</text>
<text font-size="27" text-anchor="end" transform="translate(1028.6 587.5) scale(1 1.04)">100</text>
<text font-size="27" text-anchor="end" transform="translate(1028.6 516.08) scale(1 1.04)">125</text>
<line x1="1033" y1="864" x2="1558.5" y2="864" stroke="#000" stroke-width="2.2"/>
<rect x="1055.05" y="862.86" width="13.3" height="1.14" fill="#ffffff" stroke="#000" stroke-width="2.0"/>
<circle cx="1056.7" cy="864" r="2.6"/>
<circle cx="1066.7" cy="864" r="2.6"/>
<circle cx="1061.7" cy="860.57" r="2.6"/>
<rect x="1078.45" y="843.43" width="13.3" height="20.57" fill="#d4d4d4" stroke="#000" stroke-width="2.0"/>
<line x1="1085.1" y1="843.43" x2="1085.1" y2="830.29" stroke="#000" stroke-width="2"/>
<line x1="1081.3" y1="830.29" x2="1088.9" y2="830.29" stroke="#000" stroke-width="2.2"/>
<circle cx="1085.1" cy="830.29" r="2.6"/>
<circle cx="1085.1" cy="842.86" r="2.6"/>
<circle cx="1085.1" cy="853.43" r="2.6"/>
<rect x="1101.85" y="768" width="13.3" height="96" fill="#a19fa5" stroke="#000" stroke-width="2.0"/>
<line x1="1108.5" y1="768" x2="1108.5" y2="720.29" stroke="#000" stroke-width="2"/>
<line x1="1104.7" y1="720.29" x2="1112.3" y2="720.29" stroke="#000" stroke-width="2.2"/>
<circle cx="1108.5" cy="736.86" r="2.6"/>
<circle cx="1108.5" cy="744.29" r="2.6"/>
<circle cx="1108.5" cy="820.29" r="2.6"/>
<rect x="1141.61" y="753.43" width="13.3" height="110.57" fill="#ffffff" stroke="#000" stroke-width="2.0"/>
<line x1="1148.26" y1="753.43" x2="1148.26" y2="732.01" stroke="#000" stroke-width="2"/>
<line x1="1144.46" y1="732.01" x2="1152.06" y2="732.01" stroke="#000" stroke-width="2.2"/>
<circle cx="1148.26" cy="731.72" r="2.6"/>
<circle cx="1148.26" cy="759.15" r="2.6"/>
<circle cx="1148.26" cy="766.29" r="2.6"/>
<rect x="1165.01" y="698.01" width="13.3" height="165.99" fill="#d4d4d4" stroke="#000" stroke-width="2.0"/>
<line x1="1171.66" y1="698.01" x2="1171.66" y2="624.58" stroke="#000" stroke-width="2"/>
<line x1="1167.86" y1="624.58" x2="1175.46" y2="624.58" stroke="#000" stroke-width="2.2"/>
<circle cx="1171.66" cy="622.01" r="2.6"/>
<circle cx="1171.66" cy="704.01" r="2.6"/>
<circle cx="1171.66" cy="764.58" r="2.6"/>
<rect x="1188.41" y="608.87" width="13.3" height="255.13" fill="#a19fa5" stroke="#000" stroke-width="2.0"/>
<line x1="1195.06" y1="608.87" x2="1195.06" y2="547.16" stroke="#000" stroke-width="2"/>
<line x1="1191.26" y1="547.16" x2="1198.86" y2="547.16" stroke="#000" stroke-width="2.2"/>
<circle cx="1195.06" cy="547.16" r="2.6"/>
<circle cx="1195.06" cy="608.87" r="2.6"/>
<circle cx="1195.06" cy="668.01" r="2.6"/>
<rect x="1228.17" y="584.3" width="13.3" height="279.7" fill="#ffffff" stroke="#000" stroke-width="2.0"/>
<line x1="1234.82" y1="584.3" x2="1234.82" y2="557.16" stroke="#000" stroke-width="2"/>
<line x1="1231.02" y1="557.16" x2="1238.62" y2="557.16" stroke="#000" stroke-width="2.2"/>
<circle cx="1234.82" cy="553.16" r="2.6"/>
<circle cx="1234.82" cy="595.44" r="2.6"/>
<circle cx="1234.82" cy="602.01" r="2.6"/>
<rect x="1251.57" y="566.01" width="13.3" height="297.99" fill="#d4d4d4" stroke="#000" stroke-width="2.0"/>
<line x1="1258.22" y1="566.01" x2="1258.22" y2="503.73" stroke="#000" stroke-width="2"/>
<line x1="1254.42" y1="503.73" x2="1262.02" y2="503.73" stroke="#000" stroke-width="2.2"/>
<circle cx="1258.22" cy="497.73" r="2.6"/>
<circle cx="1258.22" cy="582.01" r="2.6"/>
<circle cx="1258.22" cy="616.58" r="2.6"/>
<rect x="1274.97" y="610.3" width="13.3" height="253.7" fill="#a19fa5" stroke="#000" stroke-width="2.0"/>
<line x1="1281.62" y1="610.3" x2="1281.62" y2="576.59" stroke="#000" stroke-width="2"/>
<line x1="1277.82" y1="576.59" x2="1285.42" y2="576.59" stroke="#000" stroke-width="2.2"/>
<circle cx="1281.62" cy="575.44" r="2.6"/>
<circle cx="1281.62" cy="614.3" r="2.6"/>
<circle cx="1281.62" cy="638.58" r="2.6"/>
<rect x="1314.73" y="732.86" width="13.3" height="131.14" fill="#ffffff" stroke="#000" stroke-width="2.0"/>
<line x1="1321.38" y1="732.86" x2="1321.38" y2="688.87" stroke="#000" stroke-width="2"/>
<line x1="1317.58" y1="688.87" x2="1325.18" y2="688.87" stroke="#000" stroke-width="2.2"/>
<circle cx="1321.38" cy="682.58" r="2.6"/>
<circle cx="1321.38" cy="747.43" r="2.6"/>
<circle cx="1321.38" cy="764.58" r="2.6"/>
<rect x="1338.13" y="649.73" width="13.3" height="214.27" fill="#d4d4d4" stroke="#000" stroke-width="2.0"/>
<line x1="1344.78" y1="649.73" x2="1344.78" y2="627.15" stroke="#000" stroke-width="2"/>
<line x1="1340.98" y1="627.15" x2="1348.58" y2="627.15" stroke="#000" stroke-width="2.2"/>
<circle cx="1344.78" cy="624.87" r="2.6"/>
<circle cx="1344.78" cy="656.3" r="2.6"/>
<circle cx="1344.78" cy="663.44" r="2.6"/>
<rect x="1361.53" y="613.73" width="13.3" height="250.27" fill="#a19fa5" stroke="#000" stroke-width="2.0"/>
<line x1="1368.18" y1="613.73" x2="1368.18" y2="600.3" stroke="#000" stroke-width="2"/>
<line x1="1364.38" y1="600.3" x2="1371.98" y2="600.3" stroke="#000" stroke-width="2.2"/>
<circle cx="1368.18" cy="602.58" r="2.6"/>
<circle cx="1368.18" cy="608.58" r="2.6"/>
<circle cx="1368.18" cy="627.73" r="2.6"/>
<rect x="1401.29" y="864" width="13.3" height="0.01" fill="#ffffff" stroke="#000" stroke-width="2.0"/>
<circle cx="1402.94" cy="864" r="2.6"/>
<circle cx="1407.94" cy="864" r="2.6"/>
<circle cx="1412.94" cy="864" r="2.6"/>
<rect x="1424.69" y="845.14" width="13.3" height="18.86" fill="#d4d4d4" stroke="#000" stroke-width="2.0"/>
<line x1="1431.34" y1="845.14" x2="1431.34" y2="828.57" stroke="#000" stroke-width="2"/>
<line x1="1427.54" y1="828.57" x2="1435.14" y2="828.57" stroke="#000" stroke-width="2.2"/>
<circle cx="1431.34" cy="831.14" r="2.6"/>
<circle cx="1431.34" cy="842.29" r="2.6"/>
<circle cx="1431.34" cy="860.57" r="2.6"/>
<rect x="1448.09" y="778.86" width="13.3" height="85.14" fill="#a19fa5" stroke="#000" stroke-width="2.0"/>
<line x1="1454.74" y1="778.86" x2="1454.74" y2="736.29" stroke="#000" stroke-width="2"/>
<line x1="1450.94" y1="736.29" x2="1458.54" y2="736.29" stroke="#000" stroke-width="2.2"/>
<circle cx="1454.74" cy="744.58" r="2.6"/>
<circle cx="1454.74" cy="764.58" r="2.6"/>
<circle cx="1454.74" cy="824.57" r="2.6"/>
<rect x="1487.85" y="860.57" width="13.3" height="3.43" fill="#ffffff" stroke="#000" stroke-width="2.0"/>
<line x1="1494.5" y1="860.57" x2="1494.5" y2="855.71" stroke="#000" stroke-width="2"/>
<line x1="1490.7" y1="855.71" x2="1498.3" y2="855.71" stroke="#000" stroke-width="2.2"/>
<circle cx="1489.5" cy="856.57" r="2.6"/>
<circle cx="1499.5" cy="859.43" r="2.6"/>
<circle cx="1494.5" cy="863.43" r="2.6"/>
<rect x="1511.25" y="829.72" width="13.3" height="34.28" fill="#d4d4d4" stroke="#000" stroke-width="2.0"/>
<line x1="1517.9" y1="829.72" x2="1517.9" y2="802" stroke="#000" stroke-width="2"/>
<line x1="1514.1" y1="802" x2="1521.7" y2="802" stroke="#000" stroke-width="2.2"/>
<circle cx="1517.9" cy="798" r="2.6"/>
<circle cx="1517.9" cy="842.29" r="2.6"/>
<circle cx="1517.9" cy="847.43" r="2.6"/>
<rect x="1534.65" y="724.58" width="13.3" height="139.42" fill="#a19fa5" stroke="#000" stroke-width="2.0"/>
<line x1="1541.3" y1="724.58" x2="1541.3" y2="672.87" stroke="#000" stroke-width="2"/>
<line x1="1537.5" y1="672.87" x2="1545.1" y2="672.87" stroke="#000" stroke-width="2.2"/>
<circle cx="1541.3" cy="667.44" r="2.6"/>
<circle cx="1541.3" cy="736.86" r="2.6"/>
<circle cx="1541.3" cy="766.29" r="2.6"/>
<line x1="1053.2" y1="720.5" x2="1628" y2="720.5" stroke="#000" stroke-width="3" stroke-linecap="round" stroke-dasharray="0 7.08"/>
<line x1="1084.4" y1="864" x2="1084.4" y2="877" stroke="#000" stroke-width="2"/>
<text font-size="26.2" text-anchor="end" transform="translate(1093.3 882) rotate(-90)">severe</text>
<line x1="1170.96" y1="864" x2="1170.96" y2="877" stroke="#000" stroke-width="2"/>
<text font-size="26.2" text-anchor="end" transform="translate(1179.86 882) rotate(-90)">moderate</text>
<line x1="1257.52" y1="864" x2="1257.52" y2="877" stroke="#000" stroke-width="2"/>
<text font-size="26.2" text-anchor="end" transform="translate(1266.42 882) rotate(-90)">mild</text>
<line x1="1344.08" y1="864" x2="1344.08" y2="877" stroke="#000" stroke-width="2"/>
<text font-size="26.2" text-anchor="end" transform="translate(1352.98 882) rotate(-90)">24d post vaccination</text>
<line x1="1430.64" y1="864" x2="1430.64" y2="877" stroke="#000" stroke-width="2"/>
<text font-size="26.2" text-anchor="end" transform="translate(1439.54 882) rotate(-90)">35d post vaccination</text>
<line x1="1517.2" y1="864" x2="1517.2" y2="877" stroke="#000" stroke-width="2"/>
<text font-size="26.2" text-anchor="end" transform="translate(1526.1 882) rotate(-90)">35d post vaccination</text>
<text x="106" y="25" font-size="28" fill="#231f20">Isolate d14</text>
<text x="106" y="477.2" font-size="28" fill="#231f20">Isolate d105(del)</text>
<text x="1041.5" y="25" font-size="28" fill="#231f20">Isolate d14</text>
<text x="1041.5" y="477.2" font-size="28" fill="#231f20">Isolate d105(del)</text>
<text font-size="27.7" text-anchor="middle" fill="#231f20" transform="translate(30.6 204) rotate(-90)">pfu (%)</text>
<text font-size="27.7" text-anchor="middle" fill="#231f20" transform="translate(30.6 682.2) rotate(-90)">pfu (%)</text>
<text x="-1.2" y="30.3" font-size="35" font-weight="bold" fill="#231f20">a</text>
<text x="989" y="25.4" font-size="35" font-weight="bold" fill="#231f20">b</text>
<rect x="703.1" y="105.7" width="47.8" height="7.3" fill="#ffffff" stroke="#000" stroke-width="2"/>
<text x="781" y="118.6" font-size="25">1:32</text>
<rect x="703.1" y="157.7" width="47.8" height="7.3" fill="#d4d4d4" stroke="#000" stroke-width="2"/>
<text x="781" y="170.6" font-size="25">1:64</text>
<rect x="703.1" y="209.7" width="47.8" height="7.3" fill="#a19fa5" stroke="#000" stroke-width="2"/>
<text x="781" y="222.6" font-size="25">1:128</text>
<rect x="1396.5" y="105.6" width="47.8" height="7.3" fill="#ffffff" stroke="#000" stroke-width="2"/>
<text x="1475" y="118.4" font-size="25">1:32</text>
<rect x="1396.5" y="157.5" width="47.8" height="7.3" fill="#d4d4d4" stroke="#000" stroke-width="2"/>
<text x="1475" y="170.4" font-size="25">1:64</text>
<rect x="1396.5" y="209.7" width="47.8" height="7.3" fill="#a19fa5" stroke="#000" stroke-width="2"/>
<text x="1475" y="222.4" font-size="25">1:128</text>
<text x="1557" y="249.4" font-size="17.6">negative</text>
<text x="1561.5" y="284.2" font-size="17.6">positive</text>
<text x="1562" y="708.2" font-size="17.6">negative</text>
<text x="1567" y="743.5" font-size="17.6">positive</text>
<line x1="1043.6" y1="1007.5" x2="1272.3" y2="1007.5" stroke="#000" stroke-width="2"/>
<text x="1158.8" y="1041.7" font-size="25.6" text-anchor="middle">confirmed Covid-19</text>
<line x1="102.5" y1="1222.84" x2="102.5" y2="1601" stroke="#000" stroke-width="2.2"/>
<line x1="95.5" y1="1568.57" x2="102.5" y2="1568.57" stroke="#000" stroke-width="2"/>
<line x1="90" y1="1537.14" x2="102.5" y2="1537.14" stroke="#000" stroke-width="2"/>
<line x1="95.5" y1="1505.71" x2="102.5" y2="1505.71" stroke="#000" stroke-width="2"/>
<line x1="90" y1="1474.28" x2="102.5" y2="1474.28" stroke="#000" stroke-width="2"/>
<line x1="95.5" y1="1442.85" x2="102.5" y2="1442.85" stroke="#000" stroke-width="2"/>
<line x1="90" y1="1411.42" x2="102.5" y2="1411.42" stroke="#000" stroke-width="2"/>
<line x1="95.5" y1="1379.99" x2="102.5" y2="1379.99" stroke="#000" stroke-width="2"/>
<line x1="90" y1="1348.56" x2="102.5" y2="1348.56" stroke="#000" stroke-width="2"/>
<line x1="95.5" y1="1317.13" x2="102.5" y2="1317.13" stroke="#000" stroke-width="2"/>
<line x1="90" y1="1285.7" x2="102.5" y2="1285.7" stroke="#000" stroke-width="2"/>
<line x1="95.5" y1="1254.27" x2="102.5" y2="1254.27" stroke="#000" stroke-width="2"/>
<line x1="90" y1="1222.84" x2="102.5" y2="1222.84" stroke="#000" stroke-width="2"/>
<text font-size="27" text-anchor="end" transform="translate(85 1609.2) scale(1 1.04)">0</text>
<text font-size="27" text-anchor="end" transform="translate(85 1546.34) scale(1 1.04)">20</text>
<text font-size="27" text-anchor="end" transform="translate(85 1483.48) scale(1 1.04)">40</text>
<text font-size="27" text-anchor="end" transform="translate(85 1420.62) scale(1 1.04)">60</text>
<text font-size="27" text-anchor="end" transform="translate(85 1357.76) scale(1 1.04)">80</text>
<text font-size="27" text-anchor="end" transform="translate(85 1294.9) scale(1 1.04)">100</text>
<text font-size="27" text-anchor="end" transform="translate(85 1232.04) scale(1 1.04)">120</text>
<line x1="90" y1="1600" x2="575.52" y2="1600" stroke="#000" stroke-width="2.2"/>
<line x1="118.4" y1="1600" x2="118.4" y2="1613" stroke="#000" stroke-width="2"/>
<line x1="143.74" y1="1600" x2="143.74" y2="1608" stroke="#000" stroke-width="2"/>
<text font-size="25" text-anchor="end" transform="translate(126.4 1642) rotate(-45)">20</text>
<line x1="169.08" y1="1600" x2="169.08" y2="1613" stroke="#000" stroke-width="2"/>
<line x1="194.42" y1="1600" x2="194.42" y2="1608" stroke="#000" stroke-width="2"/>
<text font-size="25" text-anchor="end" transform="translate(177.08 1642) rotate(-45)">40</text>
<line x1="219.76" y1="1600" x2="219.76" y2="1613" stroke="#000" stroke-width="2"/>
<line x1="245.1" y1="1600" x2="245.1" y2="1608" stroke="#000" stroke-width="2"/>
<text font-size="25" text-anchor="end" transform="translate(227.76 1642) rotate(-45)">80</text>
<line x1="270.44" y1="1600" x2="270.44" y2="1613" stroke="#000" stroke-width="2"/>
<line x1="295.78" y1="1600" x2="295.78" y2="1608" stroke="#000" stroke-width="2"/>
<text font-size="25" text-anchor="end" transform="translate(278.44 1642) rotate(-45)">160</text>
<line x1="321.12" y1="1600" x2="321.12" y2="1613" stroke="#000" stroke-width="2"/>
<line x1="346.46" y1="1600" x2="346.46" y2="1608" stroke="#000" stroke-width="2"/>
<text font-size="25" text-anchor="end" transform="translate(329.12 1642) rotate(-45)">320</text>
<line x1="371.8" y1="1600" x2="371.8" y2="1613" stroke="#000" stroke-width="2"/>
<line x1="397.14" y1="1600" x2="397.14" y2="1608" stroke="#000" stroke-width="2"/>
<text font-size="25" text-anchor="end" transform="translate(379.8 1642) rotate(-45)">640</text>
<line x1="422.48" y1="1600" x2="422.48" y2="1613" stroke="#000" stroke-width="2"/>
<line x1="447.82" y1="1600" x2="447.82" y2="1608" stroke="#000" stroke-width="2"/>
<text font-size="25" text-anchor="end" transform="translate(430.48 1642) rotate(-45)">1280</text>
<line x1="473.16" y1="1600" x2="473.16" y2="1613" stroke="#000" stroke-width="2"/>
<line x1="498.5" y1="1600" x2="498.5" y2="1608" stroke="#000" stroke-width="2"/>
<text font-size="25" text-anchor="end" transform="translate(481.16 1642) rotate(-45)">2560</text>
<line x1="523.84" y1="1600" x2="523.84" y2="1613" stroke="#000" stroke-width="2"/>
<line x1="549.18" y1="1600" x2="549.18" y2="1608" stroke="#000" stroke-width="2"/>
<text font-size="25" text-anchor="end" transform="translate(531.84 1642) rotate(-45)">5120</text>
<line x1="574.52" y1="1600" x2="574.52" y2="1613" stroke="#000" stroke-width="2"/>
<text font-size="25" text-anchor="end" transform="translate(582.52 1642) rotate(-45)">10240</text>
<clipPath id="cc"><rect x="102.5" y="1202.8400000000001" width="600" height="397.15999999999985"/></clipPath>
<g clip-path="url(#cc)">
<path d="M118.6,1604.51 L121.46,1604.1 L124.32,1603.67 L127.18,1603.23 L130.04,1602.77 L132.91,1602.3 L135.77,1601.8 L138.63,1601.29 L141.49,1600.76 L144.35,1600.21 L147.21,1599.64 L150.07,1599.04 L152.93,1598.43 L155.79,1597.79 L158.65,1597.13 L161.52,1596.44 L164.38,1595.73 L167.24,1595 L170.1,1594.23 L172.96,1593.45 L175.82,1592.63 L178.68,1591.78 L181.54,1590.9 L184.4,1590 L187.26,1589.06 L190.13,1588.09 L192.99,1587.08 L195.85,1586.04 L198.71,1584.97 L201.57,1583.85 L204.43,1582.71 L207.29,1581.52 L210.15,1580.3 L213.01,1579.03 L215.87,1577.72 L218.74,1576.38 L221.6,1574.99 L224.46,1573.55 L227.32,1572.07 L230.18,1570.55 L233.04,1568.98 L235.9,1567.36 L238.76,1565.69 L241.62,1563.98 L244.48,1562.22 L247.35,1560.4 L250.21,1558.54 L253.07,1556.62 L255.93,1554.65 L258.79,1552.63 L261.65,1550.56 L264.51,1548.43 L267.37,1546.25 L270.23,1544.01 L273.09,1541.72 L275.96,1539.38 L278.82,1536.98 L281.68,1534.53 L284.54,1532.02 L287.4,1529.46 L290.26,1526.85 L293.12,1524.18 L295.98,1521.46 L298.84,1518.69 L301.7,1515.86 L304.57,1512.99 L307.43,1510.07 L310.29,1507.1 L313.15,1504.08 L316.01,1501.01 L318.87,1497.91 L321.73,1494.75 L324.59,1491.56 L327.45,1488.33 L330.31,1485.06 L333.18,1481.76 L336.04,1478.42 L338.9,1475.05 L341.76,1471.65 L344.62,1468.23 L347.48,1464.78 L350.34,1461.31 L353.2,1457.82 L356.06,1454.31 L358.92,1450.79 L361.79,1447.26 L364.65,1443.72 L367.51,1440.18 L370.37,1436.63 L373.23,1433.09 L376.09,1429.54 L378.95,1426 L381.81,1422.48 L384.67,1418.96 L387.53,1415.45 L390.4,1411.97 L393.26,1408.5 L396.12,1405.05 L398.98,1401.63 L401.84,1398.24 L404.7,1394.87 L407.56,1391.54 L410.42,1388.24 L413.28,1384.97 L416.14,1381.74 L419.01,1378.56 L421.87,1375.41 L424.73,1372.31 L427.59,1369.25 L430.45,1366.24 L433.31,1363.27 L436.17,1360.35 L439.03,1357.49 L441.89,1354.67 L444.75,1351.9 L447.62,1349.19 L450.48,1346.53 L453.34,1343.92 L456.2,1341.37 L459.06,1338.86 L461.92,1336.42 L464.78,1334.03 L467.64,1331.69 L470.5,1329.41 L473.36,1327.18 L476.23,1325 L479.09,1322.88 L481.95,1320.81 L484.81,1318.8 L487.67,1316.84 L490.53,1314.93 L493.39,1313.07 L496.25,1311.26 L499.11,1309.5 L501.97,1307.79 L504.84,1306.14 L507.7,1304.52 L510.56,1302.96 L513.42,1301.44 L516.28,1299.97 L519.14,1298.54 L522,1297.15 L524.86,1295.81 L527.72,1294.51 L530.58,1293.25 L533.45,1292.03 L536.31,1290.84 L539.17,1289.7 L542.03,1288.59 L544.89,1287.52 L547.75,1286.49 L550.61,1285.49 L553.47,1284.52 L556.33,1283.58 L559.19,1282.68 L562.06,1281.81 L564.92,1280.96 L567.78,1280.15 L570.64,1279.36 L573.5,1278.6" fill="none" stroke="#000" stroke-width="2.4"/>
<path d="M118.6,1592.08 L121.46,1589.54 L124.32,1586.93 L127.18,1584.27 L130.04,1581.55 L132.91,1578.77 L135.77,1575.93 L138.63,1573.04 L141.49,1570.09 L144.35,1567.09 L147.21,1564.03 L150.07,1560.92 L152.93,1557.75 L155.79,1554.54 L158.65,1551.28 L161.52,1547.97 L164.38,1544.61 L167.24,1541.21 L170.1,1537.76 L172.96,1534.28 L175.82,1530.76 L178.68,1527.2 L181.54,1523.61 L184.4,1519.98 L187.26,1516.33 L190.13,1512.65 L192.99,1508.94 L195.85,1505.22 L198.71,1501.48 L201.57,1497.72 L204.43,1493.95 L207.29,1490.17 L210.15,1486.38 L213.01,1482.59 L215.87,1478.8 L218.74,1475.02 L221.6,1471.23 L224.46,1467.46 L227.32,1463.7 L230.18,1459.95 L233.04,1456.22 L235.9,1452.52 L238.76,1448.83 L241.62,1445.17 L244.48,1441.54 L247.35,1437.94 L250.21,1434.37 L253.07,1430.84 L255.93,1427.34 L258.79,1423.89 L261.65,1420.48 L264.51,1417.11 L267.37,1413.79 L270.23,1410.51 L273.09,1407.28 L275.96,1404.11 L278.82,1400.99 L281.68,1397.91 L284.54,1394.9 L287.4,1391.94 L290.26,1389.03 L293.12,1386.18 L295.98,1383.39 L298.84,1380.65 L301.7,1377.97 L304.57,1375.35 L307.43,1372.79 L310.29,1370.29 L313.15,1367.84 L316.01,1365.45 L318.87,1363.13 L321.73,1360.85 L324.59,1358.64 L327.45,1356.48 L330.31,1354.38 L333.18,1352.33 L336.04,1350.34 L338.9,1348.41 L341.76,1346.53 L344.62,1344.7 L347.48,1342.92 L350.34,1341.19 L353.2,1339.52 L356.06,1337.89 L358.92,1336.31 L361.79,1334.78 L364.65,1333.3 L367.51,1331.86 L370.37,1330.47 L373.23,1329.12 L376.09,1327.82 L378.95,1326.55 L381.81,1325.33 L384.67,1324.14 L387.53,1323 L390.4,1321.89 L393.26,1320.82 L396.12,1319.78 L398.98,1318.78 L401.84,1317.82 L404.7,1316.88 L407.56,1315.98 L410.42,1315.11 L413.28,1314.27 L416.14,1313.46 L419.01,1312.67 L421.87,1311.92 L424.73,1311.19 L427.59,1310.49 L430.45,1309.81 L433.31,1309.15 L436.17,1308.52 L439.03,1307.91 L441.89,1307.33 L444.75,1306.76 L447.62,1306.22 L450.48,1305.69 L453.34,1305.19 L456.2,1304.7 L459.06,1304.23 L461.92,1303.78 L464.78,1303.34 L467.64,1302.92 L470.5,1302.52 L473.36,1302.13 L476.23,1301.75 L479.09,1301.39 L481.95,1301.05 L484.81,1300.71 L487.67,1300.39 L490.53,1300.08 L493.39,1299.78 L496.25,1299.49 L499.11,1299.22 L501.97,1298.95 L504.84,1298.7 L507.7,1298.45 L510.56,1298.22 L513.42,1297.99 L516.28,1297.77 L519.14,1297.56 L522,1297.36 L524.86,1297.16 L527.72,1296.97 L530.58,1296.79 L533.45,1296.62 L536.31,1296.45 L539.17,1296.29 L542.03,1296.14 L544.89,1295.99 L547.75,1295.85 L550.61,1295.71 L553.47,1295.58 L556.33,1295.45 L559.19,1295.33 L562.06,1295.21 L564.92,1295.1 L567.78,1294.99 L570.64,1294.89 L573.5,1294.79" fill="none" stroke="#ff0000" stroke-width="2.4"/>
</g>
<rect x="113.7" y="1594.67" width="9.4" height="9.4" fill="#000"/>
<path d="M113.3,1573.4 L123.5,1573.4 L118.4,1583 Z" fill="#ff0000"/>
<rect x="164.38" y="1589.01" width="9.4" height="9.4" fill="#000"/>
<path d="M163.98,1548.26 L174.18,1548.26 L169.08,1557.86 Z" fill="#ff0000"/>
<rect x="215.06" y="1572.36" width="9.4" height="9.4" fill="#000"/>
<path d="M214.66,1480.99 L224.86,1480.99 L219.76,1490.59 Z" fill="#ff0000"/>
<rect x="265.74" y="1543.44" width="9.4" height="9.4" fill="#000"/>
<path d="M265.34,1391.73 L275.54,1391.73 L270.44,1401.33 Z" fill="#ff0000"/>
<rect x="316.42" y="1503.21" width="9.4" height="9.4" fill="#000"/>
<path d="M316.02,1325.42 L326.22,1325.42 L321.12,1335.02 Z" fill="#ff0000"/>
<rect x="367.1" y="1420.86" width="9.4" height="9.4" fill="#000"/>
<path d="M366.7,1340.5 L376.9,1340.5 L371.8,1350.1 Z" fill="#ff0000"/>
<rect x="417.78" y="1358.63" width="9.4" height="9.4" fill="#000"/>
<path d="M417.38,1332.65 L427.58,1332.65 L422.48,1342.25 Z" fill="#ff0000"/>
<rect x="468.46" y="1318.09" width="9.4" height="9.4" fill="#000"/>
<path d="M468.06,1290.53 L478.26,1290.53 L473.16,1300.13 Z" fill="#ff0000"/>
<rect x="569.82" y="1281.63" width="9.4" height="9.4" fill="#000"/>
<line x1="333.2" y1="1530.5" x2="385.1" y2="1530.5" stroke="#000" stroke-width="2.4"/>
<rect x="354.6" y="1526" width="9.7" height="9.4" fill="#000"/>
<line x1="333.2" y1="1564.3" x2="385.1" y2="1564.3" stroke="#ff0000" stroke-width="2.4"/>
<path d="M354.2,1559.4 L364.6,1559.4 L359.4,1569.2 Z" fill="#ff0000"/>
<text x="414.2" y="1539.7" font-size="26.7">VSV-S (d14)</text>
<text x="414.2" y="1573.3" font-size="26.7">VSV-S (d105)</text>
<text x="593" y="1539.7" font-size="26.5">600</text>
<text x="595" y="1573.3" font-size="26.5">72</text>
<text x="592.5" y="1498.9" font-size="25.5" font-weight="bold">NT<tspan font-size="19.5" dy="6">50</tspan></text>
<text x="340.8" y="1719" font-size="27" text-anchor="middle" fill="#231f20">dilution factor</text>
<text font-size="26.7" text-anchor="middle" fill="#231f20" transform="translate(19.6 1412.7) rotate(-90)">% light units</text>
<text x="99" y="1197.5" font-size="28" fill="#231f20">Serum (convalescent 1)</text>
<text x="-0.5" y="1202" font-size="35" font-weight="bold" fill="#231f20">c</text>
<line x1="806.4" y1="1228.2" x2="806.4" y2="1603.6" stroke="#000" stroke-width="2.2"/>
<line x1="796.9" y1="1583.88" x2="806.4" y2="1583.88" stroke="#000" stroke-width="2"/>
<line x1="796.9" y1="1565.16" x2="806.4" y2="1565.16" stroke="#000" stroke-width="2"/>
<line x1="796.9" y1="1546.44" x2="806.4" y2="1546.44" stroke="#000" stroke-width="2"/>
<line x1="796.9" y1="1527.72" x2="806.4" y2="1527.72" stroke="#000" stroke-width="2"/>
<line x1="787.4" y1="1509" x2="806.4" y2="1509" stroke="#000" stroke-width="2"/>
<line x1="796.9" y1="1490.28" x2="806.4" y2="1490.28" stroke="#000" stroke-width="2"/>
<line x1="796.9" y1="1471.56" x2="806.4" y2="1471.56" stroke="#000" stroke-width="2"/>
<line x1="796.9" y1="1452.84" x2="806.4" y2="1452.84" stroke="#000" stroke-width="2"/>
<line x1="796.9" y1="1434.12" x2="806.4" y2="1434.12" stroke="#000" stroke-width="2"/>
<line x1="787.4" y1="1415.4" x2="806.4" y2="1415.4" stroke="#000" stroke-width="2"/>
<line x1="796.9" y1="1396.68" x2="806.4" y2="1396.68" stroke="#000" stroke-width="2"/>
<line x1="796.9" y1="1377.96" x2="806.4" y2="1377.96" stroke="#000" stroke-width="2"/>
<line x1="796.9" y1="1359.24" x2="806.4" y2="1359.24" stroke="#000" stroke-width="2"/>
<line x1="796.9" y1="1340.52" x2="806.4" y2="1340.52" stroke="#000" stroke-width="2"/>
<line x1="787.4" y1="1321.8" x2="806.4" y2="1321.8" stroke="#000" stroke-width="2"/>
<line x1="796.9" y1="1303.08" x2="806.4" y2="1303.08" stroke="#000" stroke-width="2"/>
<line x1="796.9" y1="1284.36" x2="806.4" y2="1284.36" stroke="#000" stroke-width="2"/>
<line x1="796.9" y1="1265.64" x2="806.4" y2="1265.64" stroke="#000" stroke-width="2"/>
<line x1="796.9" y1="1246.92" x2="806.4" y2="1246.92" stroke="#000" stroke-width="2"/>
<line x1="787.4" y1="1228.2" x2="806.4" y2="1228.2" stroke="#000" stroke-width="2"/>
<text font-size="27" text-anchor="end" transform="translate(782 1612) scale(1 1.04)">0</text>
<text font-size="27" text-anchor="end" transform="translate(782 1518.4) scale(1 1.04)">500</text>
<text font-size="27" text-anchor="end" transform="translate(782 1424.8) scale(1 1.04)">1000</text>
<text font-size="27" text-anchor="end" transform="translate(782 1331.2) scale(1 1.04)">1500</text>
<text font-size="27" text-anchor="end" transform="translate(782 1237.6) scale(1 1.04)">2000</text>
<line x1="787.4" y1="1602.6" x2="1227.5" y2="1602.6" stroke="#000" stroke-width="2.2"/>
<rect x="821.9" y="1327.42" width="27.7" height="275.18" fill="#d4d4d4" stroke="#000" stroke-width="2.0"/>
<line x1="835.75" y1="1327.42" x2="835.75" y2="1261.15" stroke="#000" stroke-width="2.2"/>
<line x1="828.55" y1="1261.15" x2="842.95" y2="1261.15" stroke="#000" stroke-width="2.2"/>
<circle cx="835.75" cy="1252.91" r="4.4"/>
<circle cx="835.75" cy="1348.2" r="4.4"/>
<circle cx="835.75" cy="1379.27" r="4.4"/>
<line x1="835.75" y1="1602.6" x2="835.75" y2="1621.1" stroke="#000" stroke-width="2"/>
<text font-size="26.3" text-anchor="end" transform="translate(846.05 1627.2) rotate(-90)">d14</text>
<rect x="866.95" y="1358.49" width="27.7" height="244.11" fill="#d4d4d4" stroke="#000" stroke-width="2.0"/>
<line x1="880.8" y1="1358.49" x2="880.8" y2="1298.21" stroke="#000" stroke-width="2.2"/>
<line x1="873.6" y1="1298.21" x2="888" y2="1298.21" stroke="#000" stroke-width="2.2"/>
<circle cx="880.8" cy="1289.6" r="4.4"/>
<circle cx="880.8" cy="1385.07" r="4.4"/>
<circle cx="880.8" cy="1398.36" r="4.4"/>
<line x1="880.8" y1="1602.6" x2="880.8" y2="1621.1" stroke="#000" stroke-width="2"/>
<text font-size="26.3" text-anchor="end" transform="translate(891.1 1627.2) rotate(-90)">E484G</text>
<rect x="912" y="1355.87" width="27.7" height="246.73" fill="#d4d4d4" stroke="#000" stroke-width="2.0"/>
<line x1="925.85" y1="1355.87" x2="925.85" y2="1339.58" stroke="#000" stroke-width="2.2"/>
<line x1="918.65" y1="1339.58" x2="933.05" y2="1339.58" stroke="#000" stroke-width="2.2"/>
<circle cx="925.85" cy="1336.96" r="4.4"/>
<circle cx="930.85" cy="1363.17" r="4.4"/>
<circle cx="920.85" cy="1366.35" r="4.4"/>
<line x1="925.85" y1="1602.6" x2="925.85" y2="1621.1" stroke="#000" stroke-width="2"/>
<text font-size="26.3" text-anchor="end" transform="translate(936.15 1627.2) rotate(-90)">F490L</text>
<rect x="957.05" y="1485.79" width="27.7" height="116.81" fill="#d4d4d4" stroke="#000" stroke-width="2.0"/>
<line x1="970.9" y1="1485.79" x2="970.9" y2="1441.05" stroke="#000" stroke-width="2.2"/>
<line x1="963.7" y1="1441.05" x2="978.1" y2="1441.05" stroke="#000" stroke-width="2.2"/>
<circle cx="970.9" cy="1447.04" r="4.4"/>
<circle cx="970.9" cy="1474.18" r="4.4"/>
<circle cx="970.9" cy="1533.34" r="4.4"/>
<line x1="970.9" y1="1602.6" x2="970.9" y2="1621.1" stroke="#000" stroke-width="2"/>
<text font-size="26.3" text-anchor="end" transform="translate(981.2 1627.2) rotate(-90)">del141-144</text>
<rect x="1002.1" y="1487.66" width="27.7" height="114.94" fill="#d4d4d4" stroke="#000" stroke-width="2.0"/>
<line x1="1015.95" y1="1487.66" x2="1015.95" y2="1463.32" stroke="#000" stroke-width="2.2"/>
<line x1="1008.75" y1="1463.32" x2="1023.15" y2="1463.32" stroke="#000" stroke-width="2.2"/>
<circle cx="1015.95" cy="1463.32" r="4.4"/>
<circle cx="1015.95" cy="1487.47" r="4.4"/>
<circle cx="1015.95" cy="1509.94" r="4.4"/>
<line x1="1015.95" y1="1602.6" x2="1015.95" y2="1621.1" stroke="#000" stroke-width="2"/>
<text font-size="26.3" text-anchor="end" transform="translate(1026.25 1627.2) rotate(-90)">del244-247</text>
<rect x="1047.15" y="1508.81" width="27.7" height="93.79" fill="#d4d4d4" stroke="#000" stroke-width="2.0"/>
<line x1="1061" y1="1508.81" x2="1061" y2="1479.98" stroke="#000" stroke-width="2.2"/>
<line x1="1053.8" y1="1479.98" x2="1068.2" y2="1479.98" stroke="#000" stroke-width="2.2"/>
<circle cx="1061" cy="1476.24" r="4.4"/>
<circle cx="1066" cy="1522.67" r="4.4"/>
<circle cx="1056" cy="1526.41" r="4.4"/>
<line x1="1061" y1="1602.6" x2="1061" y2="1621.1" stroke="#000" stroke-width="2"/>
<text font-size="26.3" text-anchor="end" transform="translate(1071.3 1627.2) rotate(-90)">del141-144 + E484G</text>
<rect x="1092.2" y="1485.79" width="27.7" height="116.81" fill="#d4d4d4" stroke="#000" stroke-width="2.0"/>
<line x1="1106.05" y1="1485.79" x2="1106.05" y2="1458.64" stroke="#000" stroke-width="2.2"/>
<line x1="1098.85" y1="1458.64" x2="1113.25" y2="1458.64" stroke="#000" stroke-width="2.2"/>
<circle cx="1106.05" cy="1456.96" r="4.4"/>
<circle cx="1106.05" cy="1490.65" r="4.4"/>
<circle cx="1106.05" cy="1508.81" r="4.4"/>
<line x1="1106.05" y1="1602.6" x2="1106.05" y2="1621.1" stroke="#000" stroke-width="2"/>
<text font-size="26.3" text-anchor="end" transform="translate(1116.35 1627.2) rotate(-90)">del141-144 + F490L</text>
<rect x="1137.25" y="1532.77" width="27.7" height="69.83" fill="#d4d4d4" stroke="#000" stroke-width="2.0"/>
<line x1="1151.1" y1="1532.77" x2="1151.1" y2="1479.42" stroke="#000" stroke-width="2.2"/>
<line x1="1143.9" y1="1479.42" x2="1158.3" y2="1479.42" stroke="#000" stroke-width="2.2"/>
<circle cx="1151.1" cy="1483.17" r="4.4"/>
<circle cx="1151.1" cy="1528.09" r="4.4"/>
<circle cx="1151.1" cy="1586.13" r="4.4"/>
<line x1="1151.1" y1="1602.6" x2="1151.1" y2="1621.1" stroke="#000" stroke-width="2"/>
<text font-size="26.3" text-anchor="end" transform="translate(1161.4 1627.2) rotate(-90)">del244-247 + E484G</text>
<rect x="1182.3" y="1478.49" width="27.7" height="124.11" fill="#d4d4d4" stroke="#000" stroke-width="2.0"/>
<line x1="1196.15" y1="1478.49" x2="1196.15" y2="1435.8" stroke="#000" stroke-width="2.2"/>
<line x1="1188.95" y1="1435.8" x2="1203.35" y2="1435.8" stroke="#000" stroke-width="2.2"/>
<circle cx="1196.15" cy="1429.81" r="4.4"/>
<circle cx="1201.15" cy="1499.83" r="4.4"/>
<circle cx="1191.15" cy="1502.45" r="4.4"/>
<line x1="1196.15" y1="1602.6" x2="1196.15" y2="1621.1" stroke="#000" stroke-width="2"/>
<text font-size="26.3" text-anchor="end" transform="translate(1206.45 1627.2) rotate(-90)">del244-247 + F490L</text>
<text x="847.4" y="1256.6" font-size="14.2">p = 0.9275</text>
<text x="872" y="1272.1" font-size="19.2">ns</text>
<text x="892.8" y="1301.8" font-size="14.2">p = 0.9466</text>
<text x="917.4" y="1320.1" font-size="19.2">ns</text>
<text x="942.4" y="1417" font-size="14.2">p = 0.0017</text>
<text x="962.3" y="1437.3" font-size="23" font-weight="bold" letter-spacing="0.4">**</text>
<text x="984" y="1434.2" font-size="14.2">p = 0.0015</text>
<text x="1007.7" y="1455.3" font-size="23" font-weight="bold" letter-spacing="0.4">**</text>
<text x="1028.2" y="1450.6" font-size="14.2">p = 0.0004</text>
<text x="1047.1" y="1470.3" font-size="23" font-weight="bold" letter-spacing="0.4">***</text>
<text x="1073" y="1427.8" font-size="14.2">p = 0.0017</text>
<text x="1097.3" y="1447.3" font-size="23" font-weight="bold" letter-spacing="0.4">**</text>
<text x="1118.4" y="1453.8" font-size="14.2">p = 0.0001</text>
<text x="1138.3" y="1474.3" font-size="23" font-weight="bold" letter-spacing="0.4">***</text>
<text x="1163.8" y="1402.2" font-size="14.2">p = 0.0026</text>
<text x="1186.9" y="1422.3" font-size="23" font-weight="bold" letter-spacing="0.4">**</text>
<line x1="1323.2" y1="1226.9" x2="1323.2" y2="1602.6" stroke="#000" stroke-width="2.2"/>
<line x1="1313.7" y1="1576.62" x2="1323.2" y2="1576.62" stroke="#000" stroke-width="2"/>
<line x1="1313.7" y1="1551.64" x2="1323.2" y2="1551.64" stroke="#000" stroke-width="2"/>
<line x1="1313.7" y1="1526.66" x2="1323.2" y2="1526.66" stroke="#000" stroke-width="2"/>
<line x1="1313.7" y1="1501.68" x2="1323.2" y2="1501.68" stroke="#000" stroke-width="2"/>
<line x1="1304.2" y1="1476.7" x2="1323.2" y2="1476.7" stroke="#000" stroke-width="2"/>
<line x1="1313.7" y1="1451.72" x2="1323.2" y2="1451.72" stroke="#000" stroke-width="2"/>
<line x1="1313.7" y1="1426.74" x2="1323.2" y2="1426.74" stroke="#000" stroke-width="2"/>
<line x1="1313.7" y1="1401.76" x2="1323.2" y2="1401.76" stroke="#000" stroke-width="2"/>
<line x1="1313.7" y1="1376.78" x2="1323.2" y2="1376.78" stroke="#000" stroke-width="2"/>
<line x1="1304.2" y1="1351.8" x2="1323.2" y2="1351.8" stroke="#000" stroke-width="2"/>
<line x1="1313.7" y1="1326.82" x2="1323.2" y2="1326.82" stroke="#000" stroke-width="2"/>
<line x1="1313.7" y1="1301.84" x2="1323.2" y2="1301.84" stroke="#000" stroke-width="2"/>
<line x1="1313.7" y1="1276.86" x2="1323.2" y2="1276.86" stroke="#000" stroke-width="2"/>
<line x1="1313.7" y1="1251.88" x2="1323.2" y2="1251.88" stroke="#000" stroke-width="2"/>
<line x1="1304.2" y1="1226.9" x2="1323.2" y2="1226.9" stroke="#000" stroke-width="2"/>
<text font-size="27" text-anchor="end" transform="translate(1298.8 1611) scale(1 1.04)">0</text>
<text font-size="27" text-anchor="end" transform="translate(1298.8 1486.1) scale(1 1.04)">500</text>
<text font-size="27" text-anchor="end" transform="translate(1298.8 1361.2) scale(1 1.04)">1000</text>
<text font-size="27" text-anchor="end" transform="translate(1298.8 1236.3) scale(1 1.04)">1500</text>
<line x1="1304.2" y1="1601.6" x2="1745.5" y2="1601.6" stroke="#000" stroke-width="2.2"/>
<rect x="1338.65" y="1313.08" width="27.7" height="288.52" fill="#d4d4d4" stroke="#000" stroke-width="2.0"/>
<line x1="1352.5" y1="1313.08" x2="1352.5" y2="1258.37" stroke="#000" stroke-width="2.2"/>
<line x1="1345.3" y1="1258.37" x2="1359.7" y2="1258.37" stroke="#000" stroke-width="2.2"/>
<circle cx="1352.5" cy="1255.13" r="4.4"/>
<circle cx="1352.5" cy="1318.08" r="4.4"/>
<circle cx="1352.5" cy="1363.29" r="4.4"/>
<line x1="1352.5" y1="1601.6" x2="1352.5" y2="1620.1" stroke="#000" stroke-width="2"/>
<text font-size="26.3" text-anchor="end" transform="translate(1362.8 1627.6) rotate(-90)">d14</text>
<rect x="1383.95" y="1441.23" width="27.7" height="160.37" fill="#d4d4d4" stroke="#000" stroke-width="2.0"/>
<line x1="1397.8" y1="1441.23" x2="1397.8" y2="1417" stroke="#000" stroke-width="2.2"/>
<line x1="1390.6" y1="1417" x2="1405" y2="1417" stroke="#000" stroke-width="2.2"/>
<circle cx="1397.8" cy="1413" r="4.4"/>
<circle cx="1392.8" cy="1455.97" r="4.4"/>
<circle cx="1402.8" cy="1452.22" r="4.4"/>
<line x1="1397.8" y1="1601.6" x2="1397.8" y2="1620.1" stroke="#000" stroke-width="2"/>
<text font-size="26.3" text-anchor="end" transform="translate(1408.1 1627.6) rotate(-90)">E484G</text>
<rect x="1429.25" y="1354.3" width="27.7" height="247.3" fill="#d4d4d4" stroke="#000" stroke-width="2.0"/>
<line x1="1443.1" y1="1354.3" x2="1443.1" y2="1281.11" stroke="#000" stroke-width="2.2"/>
<line x1="1435.9" y1="1281.11" x2="1450.3" y2="1281.11" stroke="#000" stroke-width="2.2"/>
<circle cx="1443.1" cy="1296.59" r="4.4"/>
<circle cx="1443.1" cy="1328.82" r="4.4"/>
<circle cx="1443.1" cy="1433.98" r="4.4"/>
<line x1="1443.1" y1="1601.6" x2="1443.1" y2="1620.1" stroke="#000" stroke-width="2"/>
<text font-size="26.3" text-anchor="end" transform="translate(1453.4 1627.6) rotate(-90)">F490L</text>
<rect x="1474.55" y="1462.21" width="27.7" height="139.39" fill="#d4d4d4" stroke="#000" stroke-width="2.0"/>
<line x1="1488.4" y1="1462.21" x2="1488.4" y2="1389.27" stroke="#000" stroke-width="2.2"/>
<line x1="1481.2" y1="1389.27" x2="1495.6" y2="1389.27" stroke="#000" stroke-width="2.2"/>
<circle cx="1488.4" cy="1382.28" r="4.4"/>
<circle cx="1488.4" cy="1478.95" r="4.4"/>
<circle cx="1488.4" cy="1524.41" r="4.4"/>
<line x1="1488.4" y1="1601.6" x2="1488.4" y2="1620.1" stroke="#000" stroke-width="2"/>
<text font-size="26.3" text-anchor="end" transform="translate(1498.7 1627.6) rotate(-90)">del141-144</text>
<rect x="1519.85" y="1496.93" width="27.7" height="104.67" fill="#d4d4d4" stroke="#000" stroke-width="2.0"/>
<line x1="1533.7" y1="1496.93" x2="1533.7" y2="1470.45" stroke="#000" stroke-width="2.2"/>
<line x1="1526.5" y1="1470.45" x2="1540.9" y2="1470.45" stroke="#000" stroke-width="2.2"/>
<circle cx="1533.7" cy="1477.45" r="4.4"/>
<circle cx="1533.7" cy="1485.19" r="4.4"/>
<circle cx="1533.7" cy="1524.41" r="4.4"/>
<line x1="1533.7" y1="1601.6" x2="1533.7" y2="1620.1" stroke="#000" stroke-width="2"/>
<text font-size="26.3" text-anchor="end" transform="translate(1544 1627.6) rotate(-90)">del244-247</text>
<rect x="1565.15" y="1548.64" width="27.7" height="52.96" fill="#d4d4d4" stroke="#000" stroke-width="2.0"/>
<line x1="1579" y1="1548.64" x2="1579" y2="1535.4" stroke="#000" stroke-width="2.2"/>
<line x1="1571.8" y1="1535.4" x2="1586.2" y2="1535.4" stroke="#000" stroke-width="2.2"/>
<circle cx="1579" cy="1533.9" r="4.4"/>
<circle cx="1579" cy="1551.39" r="4.4"/>
<circle cx="1579" cy="1556.89" r="4.4"/>
<line x1="1579" y1="1601.6" x2="1579" y2="1620.1" stroke="#000" stroke-width="2"/>
<text font-size="26.3" text-anchor="end" transform="translate(1589.3 1627.6) rotate(-90)">del141-144 + E484G</text>
<rect x="1610.45" y="1511.92" width="27.7" height="89.68" fill="#d4d4d4" stroke="#000" stroke-width="2.0"/>
<line x1="1624.3" y1="1511.92" x2="1624.3" y2="1460.71" stroke="#000" stroke-width="2.2"/>
<line x1="1617.1" y1="1460.71" x2="1631.5" y2="1460.71" stroke="#000" stroke-width="2.2"/>
<circle cx="1624.3" cy="1453.22" r="4.4"/>
<circle cx="1624.3" cy="1533.9" r="4.4"/>
<circle cx="1624.3" cy="1545.64" r="4.4"/>
<line x1="1624.3" y1="1601.6" x2="1624.3" y2="1620.1" stroke="#000" stroke-width="2"/>
<text font-size="26.3" text-anchor="end" transform="translate(1634.6 1627.6) rotate(-90)">del141-144 + F490L</text>
<rect x="1655.75" y="1510.42" width="27.7" height="91.18" fill="#d4d4d4" stroke="#000" stroke-width="2.0"/>
<line x1="1669.6" y1="1510.42" x2="1669.6" y2="1444.98" stroke="#000" stroke-width="2.2"/>
<line x1="1662.4" y1="1444.98" x2="1676.8" y2="1444.98" stroke="#000" stroke-width="2.2"/>
<circle cx="1669.6" cy="1434.98" r="4.4"/>
<circle cx="1664.6" cy="1548.89" r="4.4"/>
<circle cx="1674.6" cy="1545.64" r="4.4"/>
<line x1="1669.6" y1="1601.6" x2="1669.6" y2="1620.1" stroke="#000" stroke-width="2"/>
<text font-size="26.3" text-anchor="end" transform="translate(1679.9 1627.6) rotate(-90)">del244-247 + E484G</text>
<rect x="1701.05" y="1492.44" width="27.7" height="109.16" fill="#d4d4d4" stroke="#000" stroke-width="2.0"/>
<line x1="1714.9" y1="1492.44" x2="1714.9" y2="1445.97" stroke="#000" stroke-width="2.2"/>
<line x1="1707.7" y1="1445.97" x2="1722.1" y2="1445.97" stroke="#000" stroke-width="2.2"/>
<circle cx="1714.9" cy="1444.98" r="4.4"/>
<circle cx="1714.9" cy="1493.94" r="4.4"/>
<circle cx="1714.9" cy="1538.65" r="4.4"/>
<line x1="1714.9" y1="1601.6" x2="1714.9" y2="1620.1" stroke="#000" stroke-width="2"/>
<text font-size="26.3" text-anchor="end" transform="translate(1725.2 1627.6) rotate(-90)">del244-247 + F490L</text>
<text font-size="14.2" text-anchor="end" transform="translate(1402 1318.7) rotate(-90)">p = 0.1136</text>
<text x="1388.6" y="1398.9" font-size="19.2">ns</text>
<text x="1411.5" y="1256.8" font-size="14.2">p = 0.9837</text>
<text x="1434" y="1273.2" font-size="19.2">ns</text>
<text x="1455.5" y="1348" font-size="14.2">p = 0.0433</text>
<text x="1483.7" y="1372.3" font-size="23" font-weight="bold" letter-spacing="0.4">*</text>
<text x="1501" y="1439" font-size="14.2">p = 0.0083</text>
<text x="1525" y="1462.3" font-size="23" font-weight="bold" letter-spacing="0.4">**</text>
<text x="1548.8" y="1492.2" font-size="14.2">p = 0.0006</text>
<text x="1565.7" y="1527.3" font-size="23" font-weight="bold" letter-spacing="0.4">***</text>
<text x="1589.7" y="1422.4" font-size="14.2">p = 0.0038</text>
<text x="1615.2" y="1446.3" font-size="23" font-weight="bold" letter-spacing="0.4">**</text>
<text x="1637.5" y="1401" font-size="14.2">p = 0.0041</text>
<text x="1661.7" y="1426.3" font-size="23" font-weight="bold" letter-spacing="0.4">**</text>
<text x="1684" y="1415.2" font-size="14.2">p = 0.0098</text>
<text x="1705.7" y="1439.3" font-size="23" font-weight="bold" letter-spacing="0.4">**</text>
<text x="804" y="1197.5" font-size="28" fill="#231f20">Serum (convalescent 2)</text>
<text x="1317.5" y="1197.1" font-size="28" fill="#231f20">Serum (vaccinated patient)</text>
<text x="690" y="1201.6" font-size="35" font-weight="bold" fill="#231f20">d</text>
<text x="1230" y="1201.8" font-size="35" font-weight="bold" fill="#231f20">e</text>
<text x="0" y="0" font-size="27" transform="translate(699.3 1444.7) rotate(-90)">NT<tspan font-size="20" dy="6.3">50</tspan></text>
</svg>
</body></html>
